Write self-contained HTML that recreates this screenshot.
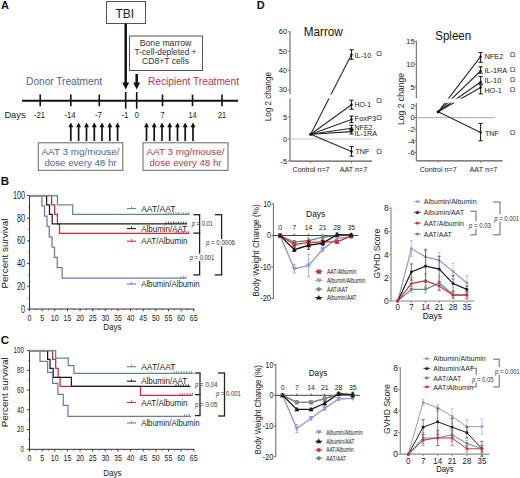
<!DOCTYPE html>
<html><head><meta charset="utf-8"><title>Figure</title>
<style>
html,body{margin:0;padding:0;background:#fff;width:520px;height:478px;overflow:hidden}
svg{display:block;font-family:"Liberation Sans", sans-serif}
</style></head><body>
<svg width="520" height="478" viewBox="0 0 520 478" font-family='"Liberation Sans", sans-serif'>
<rect x="0" y="0" width="520" height="478" fill="#fff"/>
<text x="1.00" y="9.30" font-size="11" text-anchor="start" fill="#111" font-weight="bold" >A</text>
<rect x="106.50" y="1.50" width="39.00" height="22.00" stroke="#555" stroke-width="1" fill="#fff"/>
<text x="124.80" y="18.40" font-size="12" text-anchor="middle" fill="#222" textLength="18.70" lengthAdjust="spacingAndGlyphs" >TBI</text>
<rect x="129.50" y="36.00" width="73.00" height="34.50" stroke="#555" stroke-width="1" fill="#fff"/>
<text x="165.50" y="45.60" font-size="9.4" text-anchor="middle" fill="#333" textLength="51.50" lengthAdjust="spacingAndGlyphs" >Bone marrow</text>
<text x="165.50" y="55.00" font-size="9.4" text-anchor="middle" fill="#333" textLength="62.00" lengthAdjust="spacingAndGlyphs" >T-cell-depleted +</text>
<text x="165.50" y="64.40" font-size="9.4" text-anchor="middle" fill="#333" textLength="47.00" lengthAdjust="spacingAndGlyphs" >CD8+T cells</text>
<line x1="125.70" y1="23.50" x2="125.70" y2="84.00" stroke="#111" stroke-width="2.5" />
<polygon points="122.3,82.5 129.1,82.5 125.7,89.5" fill="#111"/>
<line x1="136.70" y1="74.00" x2="136.70" y2="84.00" stroke="#111" stroke-width="2.5" />
<polygon points="133.3,82.5 140.1,82.5 136.7,89.5" fill="#111"/>
<text x="26.10" y="84.70" font-size="10" text-anchor="start" fill="#4a6596" textLength="76.00" lengthAdjust="spacingAndGlyphs" >Donor Treatment</text>
<text x="148.00" y="84.80" font-size="10" text-anchor="start" fill="#b5394a" textLength="91.00" lengthAdjust="spacingAndGlyphs" >Recipient Treatment</text>
<line x1="22.00" y1="100.70" x2="238.00" y2="100.70" stroke="#111" stroke-width="2" />
<line x1="40.20" y1="94.60" x2="40.20" y2="106.20" stroke="#111" stroke-width="1.6" />
<text x="39.40" y="118.30" font-size="9.6" text-anchor="middle" fill="#1a1a1a" textLength="11.10" lengthAdjust="spacingAndGlyphs" >-21</text>
<line x1="70.80" y1="94.60" x2="70.80" y2="106.20" stroke="#111" stroke-width="1.6" />
<text x="70.00" y="118.30" font-size="9.6" text-anchor="middle" fill="#1a1a1a" textLength="11.10" lengthAdjust="spacingAndGlyphs" >-14</text>
<line x1="99.30" y1="94.60" x2="99.30" y2="106.20" stroke="#111" stroke-width="1.6" />
<text x="98.50" y="118.30" font-size="9.6" text-anchor="middle" fill="#1a1a1a" textLength="7.00" lengthAdjust="spacingAndGlyphs" >-7</text>
<line x1="125.70" y1="92.00" x2="125.70" y2="108.70" stroke="#111" stroke-width="1.6" />
<text x="124.90" y="118.30" font-size="9.6" text-anchor="middle" fill="#1a1a1a" textLength="7.00" lengthAdjust="spacingAndGlyphs" >-1</text>
<line x1="136.70" y1="92.00" x2="136.70" y2="108.70" stroke="#111" stroke-width="1.6" />
<text x="136.70" y="118.30" font-size="9.6" text-anchor="middle" fill="#1a1a1a" textLength="4.10" lengthAdjust="spacingAndGlyphs" >0</text>
<line x1="162.50" y1="94.60" x2="162.50" y2="106.20" stroke="#111" stroke-width="1.6" />
<text x="162.50" y="118.30" font-size="9.6" text-anchor="middle" fill="#1a1a1a" textLength="4.10" lengthAdjust="spacingAndGlyphs" >7</text>
<line x1="192.50" y1="94.60" x2="192.50" y2="106.20" stroke="#111" stroke-width="1.6" />
<text x="192.50" y="118.30" font-size="9.6" text-anchor="middle" fill="#1a1a1a" textLength="8.20" lengthAdjust="spacingAndGlyphs" >14</text>
<line x1="222.00" y1="94.60" x2="222.00" y2="106.20" stroke="#111" stroke-width="1.6" />
<text x="222.00" y="118.30" font-size="9.6" text-anchor="middle" fill="#1a1a1a" textLength="8.20" lengthAdjust="spacingAndGlyphs" >21</text>
<text x="4.40" y="117.70" font-size="9.3" text-anchor="start" fill="#222" textLength="21.20" lengthAdjust="spacingAndGlyphs" >Days</text>
<line x1="70.80" y1="126.00" x2="70.80" y2="141.00" stroke="#111" stroke-width="1.7" />
<polygon points="68.30,127.2 73.30,127.2 70.80,122.6" fill="#111"/>
<line x1="78.60" y1="126.00" x2="78.60" y2="141.00" stroke="#111" stroke-width="1.7" />
<polygon points="76.10,127.2 81.10,127.2 78.60,122.6" fill="#111"/>
<line x1="86.50" y1="126.00" x2="86.50" y2="141.00" stroke="#111" stroke-width="1.7" />
<polygon points="84.00,127.2 89.00,127.2 86.50,122.6" fill="#111"/>
<line x1="94.30" y1="126.00" x2="94.30" y2="141.00" stroke="#111" stroke-width="1.7" />
<polygon points="91.80,127.2 96.80,127.2 94.30,122.6" fill="#111"/>
<line x1="102.00" y1="126.00" x2="102.00" y2="141.00" stroke="#111" stroke-width="1.7" />
<polygon points="99.50,127.2 104.50,127.2 102.00,122.6" fill="#111"/>
<line x1="109.80" y1="126.00" x2="109.80" y2="141.00" stroke="#111" stroke-width="1.7" />
<polygon points="107.30,127.2 112.30,127.2 109.80,122.6" fill="#111"/>
<line x1="117.60" y1="126.00" x2="117.60" y2="141.00" stroke="#111" stroke-width="1.7" />
<polygon points="115.10,127.2 120.10,127.2 117.60,122.6" fill="#111"/>
<line x1="146.50" y1="126.00" x2="146.50" y2="141.00" stroke="#111" stroke-width="1.7" />
<polygon points="144.00,127.2 149.00,127.2 146.50,122.6" fill="#111"/>
<line x1="154.20" y1="126.00" x2="154.20" y2="141.00" stroke="#111" stroke-width="1.7" />
<polygon points="151.70,127.2 156.70,127.2 154.20,122.6" fill="#111"/>
<line x1="162.00" y1="126.00" x2="162.00" y2="141.00" stroke="#111" stroke-width="1.7" />
<polygon points="159.50,127.2 164.50,127.2 162.00,122.6" fill="#111"/>
<line x1="169.70" y1="126.00" x2="169.70" y2="141.00" stroke="#111" stroke-width="1.7" />
<polygon points="167.20,127.2 172.20,127.2 169.70,122.6" fill="#111"/>
<line x1="177.50" y1="126.00" x2="177.50" y2="141.00" stroke="#111" stroke-width="1.7" />
<polygon points="175.00,127.2 180.00,127.2 177.50,122.6" fill="#111"/>
<line x1="185.20" y1="126.00" x2="185.20" y2="141.00" stroke="#111" stroke-width="1.7" />
<polygon points="182.70,127.2 187.70,127.2 185.20,122.6" fill="#111"/>
<line x1="193.00" y1="126.00" x2="193.00" y2="141.00" stroke="#111" stroke-width="1.7" />
<polygon points="190.50,127.2 195.50,127.2 193.00,122.6" fill="#111"/>
<rect x="38.30" y="142.80" width="84.50" height="27.50" stroke="#666" stroke-width="1" fill="#fff"/>
<text x="80.50" y="155.20" font-size="9.7" text-anchor="middle" fill="#4a6596" textLength="78.00" lengthAdjust="spacingAndGlyphs" >AAT 3 mg/mouse/</text>
<text x="80.50" y="165.60" font-size="9.7" text-anchor="middle" fill="#4a6596" textLength="72.00" lengthAdjust="spacingAndGlyphs" >dose every 48 hr</text>
<rect x="143.00" y="142.80" width="85.00" height="27.50" stroke="#666" stroke-width="1" fill="#fff"/>
<text x="185.50" y="155.20" font-size="9.7" text-anchor="middle" fill="#b5394a" textLength="78.00" lengthAdjust="spacingAndGlyphs" >AAT 3 mg/mouse/</text>
<text x="185.50" y="165.60" font-size="9.7" text-anchor="middle" fill="#b5394a" textLength="72.00" lengthAdjust="spacingAndGlyphs" >dose every 48 hr</text>
<text x="0.80" y="184.80" font-size="11.5" text-anchor="start" fill="#111" font-weight="bold" >B</text>
<line x1="29.50" y1="195.00" x2="29.50" y2="309.00" stroke="#333" stroke-width="1" />
<line x1="29.50" y1="309.00" x2="194.25" y2="309.00" stroke="#333" stroke-width="1" />
<line x1="27.20" y1="309.00" x2="29.50" y2="309.00" stroke="#333" stroke-width="1" />
<text x="25.20" y="312.50" font-size="10" text-anchor="end" fill="#222" textLength="4.10" lengthAdjust="spacingAndGlyphs" >0</text>
<line x1="28.00" y1="297.65" x2="29.50" y2="297.65" stroke="#666" stroke-width="0.8" />
<line x1="27.20" y1="286.30" x2="29.50" y2="286.30" stroke="#333" stroke-width="1" />
<text x="25.20" y="289.80" font-size="10" text-anchor="end" fill="#222" textLength="8.20" lengthAdjust="spacingAndGlyphs" >20</text>
<line x1="28.00" y1="274.95" x2="29.50" y2="274.95" stroke="#666" stroke-width="0.8" />
<line x1="27.20" y1="263.60" x2="29.50" y2="263.60" stroke="#333" stroke-width="1" />
<text x="25.20" y="267.10" font-size="10" text-anchor="end" fill="#222" textLength="8.20" lengthAdjust="spacingAndGlyphs" >40</text>
<line x1="28.00" y1="252.25" x2="29.50" y2="252.25" stroke="#666" stroke-width="0.8" />
<line x1="27.20" y1="240.90" x2="29.50" y2="240.90" stroke="#333" stroke-width="1" />
<text x="25.20" y="244.40" font-size="10" text-anchor="end" fill="#222" textLength="8.20" lengthAdjust="spacingAndGlyphs" >60</text>
<line x1="28.00" y1="229.55" x2="29.50" y2="229.55" stroke="#666" stroke-width="0.8" />
<line x1="27.20" y1="218.20" x2="29.50" y2="218.20" stroke="#333" stroke-width="1" />
<text x="25.20" y="221.70" font-size="10" text-anchor="end" fill="#222" textLength="8.20" lengthAdjust="spacingAndGlyphs" >80</text>
<line x1="28.00" y1="206.85" x2="29.50" y2="206.85" stroke="#666" stroke-width="0.8" />
<line x1="27.20" y1="195.50" x2="29.50" y2="195.50" stroke="#333" stroke-width="1" />
<text x="25.20" y="199.00" font-size="10" text-anchor="end" fill="#222" textLength="12.30" lengthAdjust="spacingAndGlyphs" >100</text>
<line x1="29.50" y1="309.00" x2="29.50" y2="311.20" stroke="#333" stroke-width="1" />
<text x="29.50" y="320.60" font-size="9.4" text-anchor="middle" fill="#222" textLength="3.90" lengthAdjust="spacingAndGlyphs" >0</text>
<line x1="35.82" y1="309.00" x2="35.82" y2="310.40" stroke="#555" stroke-width="0.9" />
<line x1="42.14" y1="309.00" x2="42.14" y2="311.20" stroke="#333" stroke-width="1" />
<text x="42.14" y="320.60" font-size="9.4" text-anchor="middle" fill="#222" textLength="3.90" lengthAdjust="spacingAndGlyphs" >5</text>
<line x1="48.45" y1="309.00" x2="48.45" y2="310.40" stroke="#555" stroke-width="0.9" />
<line x1="54.77" y1="309.00" x2="54.77" y2="311.20" stroke="#333" stroke-width="1" />
<text x="54.77" y="320.60" font-size="9.4" text-anchor="middle" fill="#222" textLength="7.80" lengthAdjust="spacingAndGlyphs" >10</text>
<line x1="61.09" y1="309.00" x2="61.09" y2="310.40" stroke="#555" stroke-width="0.9" />
<line x1="67.41" y1="309.00" x2="67.41" y2="311.20" stroke="#333" stroke-width="1" />
<text x="67.41" y="320.60" font-size="9.4" text-anchor="middle" fill="#222" textLength="7.80" lengthAdjust="spacingAndGlyphs" >15</text>
<line x1="73.72" y1="309.00" x2="73.72" y2="310.40" stroke="#555" stroke-width="0.9" />
<line x1="80.04" y1="309.00" x2="80.04" y2="311.20" stroke="#333" stroke-width="1" />
<text x="80.04" y="320.60" font-size="9.4" text-anchor="middle" fill="#222" textLength="7.80" lengthAdjust="spacingAndGlyphs" >20</text>
<line x1="86.36" y1="309.00" x2="86.36" y2="310.40" stroke="#555" stroke-width="0.9" />
<line x1="92.68" y1="309.00" x2="92.68" y2="311.20" stroke="#333" stroke-width="1" />
<text x="92.68" y="320.60" font-size="9.4" text-anchor="middle" fill="#222" textLength="7.80" lengthAdjust="spacingAndGlyphs" >25</text>
<line x1="98.99" y1="309.00" x2="98.99" y2="310.40" stroke="#555" stroke-width="0.9" />
<line x1="105.31" y1="309.00" x2="105.31" y2="311.20" stroke="#333" stroke-width="1" />
<text x="105.31" y="320.60" font-size="9.4" text-anchor="middle" fill="#222" textLength="7.80" lengthAdjust="spacingAndGlyphs" >30</text>
<line x1="111.63" y1="309.00" x2="111.63" y2="310.40" stroke="#555" stroke-width="0.9" />
<line x1="117.95" y1="309.00" x2="117.95" y2="311.20" stroke="#333" stroke-width="1" />
<text x="117.95" y="320.60" font-size="9.4" text-anchor="middle" fill="#222" textLength="7.80" lengthAdjust="spacingAndGlyphs" >35</text>
<line x1="124.26" y1="309.00" x2="124.26" y2="310.40" stroke="#555" stroke-width="0.9" />
<line x1="130.58" y1="309.00" x2="130.58" y2="311.20" stroke="#333" stroke-width="1" />
<text x="130.58" y="320.60" font-size="9.4" text-anchor="middle" fill="#222" textLength="7.80" lengthAdjust="spacingAndGlyphs" >40</text>
<line x1="136.90" y1="309.00" x2="136.90" y2="310.40" stroke="#555" stroke-width="0.9" />
<line x1="143.22" y1="309.00" x2="143.22" y2="311.20" stroke="#333" stroke-width="1" />
<text x="143.22" y="320.60" font-size="9.4" text-anchor="middle" fill="#222" textLength="7.80" lengthAdjust="spacingAndGlyphs" >45</text>
<line x1="149.53" y1="309.00" x2="149.53" y2="310.40" stroke="#555" stroke-width="0.9" />
<line x1="155.85" y1="309.00" x2="155.85" y2="311.20" stroke="#333" stroke-width="1" />
<text x="155.85" y="320.60" font-size="9.4" text-anchor="middle" fill="#222" textLength="7.80" lengthAdjust="spacingAndGlyphs" >50</text>
<line x1="162.17" y1="309.00" x2="162.17" y2="310.40" stroke="#555" stroke-width="0.9" />
<line x1="168.49" y1="309.00" x2="168.49" y2="311.20" stroke="#333" stroke-width="1" />
<text x="168.49" y="320.60" font-size="9.4" text-anchor="middle" fill="#222" textLength="7.80" lengthAdjust="spacingAndGlyphs" >55</text>
<line x1="174.80" y1="309.00" x2="174.80" y2="310.40" stroke="#555" stroke-width="0.9" />
<line x1="181.12" y1="309.00" x2="181.12" y2="311.20" stroke="#333" stroke-width="1" />
<text x="181.12" y="320.60" font-size="9.4" text-anchor="middle" fill="#222" textLength="7.80" lengthAdjust="spacingAndGlyphs" >60</text>
<line x1="187.44" y1="309.00" x2="187.44" y2="310.40" stroke="#555" stroke-width="0.9" />
<line x1="193.75" y1="309.00" x2="193.75" y2="311.20" stroke="#333" stroke-width="1" />
<text x="193.75" y="320.60" font-size="9.4" text-anchor="middle" fill="#222" textLength="7.80" lengthAdjust="spacingAndGlyphs" >65</text>
<text x="112.40" y="329.50" font-size="8.6" text-anchor="middle" fill="#222" textLength="18.40" lengthAdjust="spacingAndGlyphs" >Days</text>
<text x="7.60" y="253.60" font-size="9" text-anchor="middle" fill="#222" textLength="70.00" lengthAdjust="spacingAndGlyphs" transform="rotate(-90 7.60 253.60)" >Percent survival</text>
<polyline points="29.50,195.50 57.40,195.50 57.40,204.95 72.70,204.95 72.70,214.42 189.60,214.42" stroke="#5e8b88" stroke-width="1.25" fill="none" />
<polyline points="29.50,195.50 51.60,195.50 51.60,204.95 54.70,204.95 54.70,214.42 57.40,214.42 57.40,223.88 59.50,223.88 59.50,233.33 189.60,233.33" stroke="#c2303e" stroke-width="1.25" fill="none" />
<polyline points="29.50,195.50 46.60,195.50 46.60,204.95 49.50,204.95 49.50,214.42 52.20,214.42 52.20,223.88 187.00,223.88" stroke="#1e1e1e" stroke-width="1.25" fill="none" />
<polyline points="29.50,195.50 41.90,195.50 41.90,205.83 44.50,205.83 44.50,216.16 47.00,216.16 47.00,226.49 49.20,226.49 49.20,236.81 52.00,236.81 52.00,247.14 54.50,247.14 54.50,257.41 57.20,257.41 57.20,267.69 62.20,267.69 62.20,278.05 186.50,278.05" stroke="#7476b4" stroke-width="1.25" fill="none" />
<line x1="29.50" y1="195.50" x2="57.40" y2="195.50" stroke="#8e8e8e" stroke-width="1.4" />
<line x1="166.00" y1="212.22" x2="166.00" y2="214.42" stroke="#5e8b88" stroke-width="0.8" />
<line x1="168.50" y1="212.22" x2="168.50" y2="214.42" stroke="#5e8b88" stroke-width="0.8" />
<line x1="171.00" y1="212.22" x2="171.00" y2="214.42" stroke="#5e8b88" stroke-width="0.8" />
<line x1="173.50" y1="212.22" x2="173.50" y2="214.42" stroke="#5e8b88" stroke-width="0.8" />
<line x1="176.00" y1="212.22" x2="176.00" y2="214.42" stroke="#5e8b88" stroke-width="0.8" />
<line x1="178.50" y1="212.22" x2="178.50" y2="214.42" stroke="#5e8b88" stroke-width="0.8" />
<line x1="181.00" y1="212.22" x2="181.00" y2="214.42" stroke="#5e8b88" stroke-width="0.8" />
<line x1="183.50" y1="212.22" x2="183.50" y2="214.42" stroke="#5e8b88" stroke-width="0.8" />
<line x1="186.00" y1="212.22" x2="186.00" y2="214.42" stroke="#5e8b88" stroke-width="0.8" />
<line x1="188.50" y1="212.22" x2="188.50" y2="214.42" stroke="#5e8b88" stroke-width="0.8" />
<line x1="166.00" y1="221.68" x2="166.00" y2="223.88" stroke="#1e1e1e" stroke-width="0.8" />
<line x1="168.50" y1="221.68" x2="168.50" y2="223.88" stroke="#1e1e1e" stroke-width="0.8" />
<line x1="171.00" y1="221.68" x2="171.00" y2="223.88" stroke="#1e1e1e" stroke-width="0.8" />
<line x1="173.50" y1="221.68" x2="173.50" y2="223.88" stroke="#1e1e1e" stroke-width="0.8" />
<line x1="176.00" y1="221.68" x2="176.00" y2="223.88" stroke="#1e1e1e" stroke-width="0.8" />
<line x1="178.50" y1="221.68" x2="178.50" y2="223.88" stroke="#1e1e1e" stroke-width="0.8" />
<line x1="181.00" y1="221.68" x2="181.00" y2="223.88" stroke="#1e1e1e" stroke-width="0.8" />
<line x1="183.50" y1="221.68" x2="183.50" y2="223.88" stroke="#1e1e1e" stroke-width="0.8" />
<line x1="186.00" y1="221.68" x2="186.00" y2="223.88" stroke="#1e1e1e" stroke-width="0.8" />
<line x1="176.00" y1="231.13" x2="176.00" y2="233.33" stroke="#c2303e" stroke-width="0.8" />
<line x1="178.50" y1="231.13" x2="178.50" y2="233.33" stroke="#c2303e" stroke-width="0.8" />
<line x1="181.00" y1="231.13" x2="181.00" y2="233.33" stroke="#c2303e" stroke-width="0.8" />
<line x1="183.50" y1="231.13" x2="183.50" y2="233.33" stroke="#c2303e" stroke-width="0.8" />
<line x1="186.00" y1="231.13" x2="186.00" y2="233.33" stroke="#c2303e" stroke-width="0.8" />
<line x1="188.50" y1="231.13" x2="188.50" y2="233.33" stroke="#c2303e" stroke-width="0.8" />
<line x1="181.00" y1="275.85" x2="181.00" y2="278.05" stroke="#7476b4" stroke-width="0.8" />
<line x1="183.50" y1="275.85" x2="183.50" y2="278.05" stroke="#7476b4" stroke-width="0.8" />
<line x1="186.00" y1="275.85" x2="186.00" y2="278.05" stroke="#7476b4" stroke-width="0.8" />
<line x1="127.00" y1="208.60" x2="136.00" y2="208.60" stroke="#5e8b88" stroke-width="1.1" />
<line x1="131.50" y1="206.60" x2="131.50" y2="208.60" stroke="#5e8b88" stroke-width="0.9" />
<text x="141.20" y="211.60" font-size="8.4" text-anchor="start" fill="#222" textLength="34.20" lengthAdjust="spacingAndGlyphs" >AAT/AAT</text>
<line x1="127.00" y1="228.60" x2="136.00" y2="228.60" stroke="#1e1e1e" stroke-width="1.1" />
<line x1="131.50" y1="226.60" x2="131.50" y2="228.60" stroke="#1e1e1e" stroke-width="0.9" />
<text x="141.20" y="231.60" font-size="8.4" text-anchor="start" fill="#222" textLength="46.00" lengthAdjust="spacingAndGlyphs" >Albumin/AAT</text>
<line x1="127.00" y1="241.20" x2="136.00" y2="241.20" stroke="#c2303e" stroke-width="1.1" />
<line x1="131.50" y1="239.20" x2="131.50" y2="241.20" stroke="#c2303e" stroke-width="0.9" />
<text x="141.20" y="244.20" font-size="8.4" text-anchor="start" fill="#222" textLength="46.30" lengthAdjust="spacingAndGlyphs" >AAT/Albumin</text>
<line x1="127.00" y1="284.00" x2="136.00" y2="284.00" stroke="#7476b4" stroke-width="1.1" />
<line x1="131.50" y1="282.00" x2="131.50" y2="284.00" stroke="#7476b4" stroke-width="0.9" />
<text x="141.20" y="287.00" font-size="8.4" text-anchor="start" fill="#222" textLength="58.50" lengthAdjust="spacingAndGlyphs" >Albumin/Albumin</text>
<line x1="199.60" y1="214.70" x2="199.60" y2="274.90" stroke="#222" stroke-width="1.3" />
<line x1="193.30" y1="214.70" x2="200.25" y2="214.70" stroke="#222" stroke-width="1.3" />
<line x1="193.30" y1="233.10" x2="200.25" y2="233.10" stroke="#222" stroke-width="1.3" />
<line x1="193.30" y1="274.90" x2="200.25" y2="274.90" stroke="#222" stroke-width="1.3" />
<line x1="221.60" y1="214.70" x2="221.60" y2="274.90" stroke="#222" stroke-width="1.3" />
<line x1="214.90" y1="214.70" x2="222.25" y2="214.70" stroke="#222" stroke-width="1.3" />
<line x1="214.90" y1="274.90" x2="222.25" y2="274.90" stroke="#222" stroke-width="1.3" />
<text x="202.40" y="225.85" font-size="6.8" text-anchor="middle" fill="#333" textLength="21.30" lengthAdjust="spacingAndGlyphs"><tspan font-style="italic">p</tspan> = 0.01</text>
<rect x="189.45" y="253.70" width="25.10" height="7.2" fill="#fff"/>
<text x="202.00" y="259.75" font-size="6.8" text-anchor="middle" fill="#333" textLength="24.50" lengthAdjust="spacingAndGlyphs"><tspan font-style="italic">p</tspan> = 0.001</text>
<rect x="205.70" y="239.10" width="29.60" height="7.2" fill="#fff"/>
<text x="220.50" y="245.15" font-size="6.8" text-anchor="middle" fill="#333" textLength="29.00" lengthAdjust="spacingAndGlyphs"><tspan font-style="italic">p</tspan> = 0.0006</text>
<text x="0.80" y="343.80" font-size="11.5" text-anchor="start" fill="#111" font-weight="bold" >C</text>
<line x1="29.50" y1="350.00" x2="29.50" y2="449.30" stroke="#333" stroke-width="1" />
<line x1="29.50" y1="449.30" x2="194.25" y2="449.30" stroke="#333" stroke-width="1" />
<line x1="27.20" y1="449.30" x2="29.50" y2="449.30" stroke="#333" stroke-width="1" />
<text x="23.80" y="452.20" font-size="8.3" text-anchor="end" fill="#222" textLength="3.40" lengthAdjust="spacingAndGlyphs" >0</text>
<line x1="28.00" y1="439.42" x2="29.50" y2="439.42" stroke="#666" stroke-width="0.8" />
<line x1="27.20" y1="429.54" x2="29.50" y2="429.54" stroke="#333" stroke-width="1" />
<text x="23.80" y="432.44" font-size="8.3" text-anchor="end" fill="#222" textLength="6.80" lengthAdjust="spacingAndGlyphs" >20</text>
<line x1="28.00" y1="419.66" x2="29.50" y2="419.66" stroke="#666" stroke-width="0.8" />
<line x1="27.20" y1="409.78" x2="29.50" y2="409.78" stroke="#333" stroke-width="1" />
<text x="23.80" y="412.69" font-size="8.3" text-anchor="end" fill="#222" textLength="6.80" lengthAdjust="spacingAndGlyphs" >40</text>
<line x1="28.00" y1="399.90" x2="29.50" y2="399.90" stroke="#666" stroke-width="0.8" />
<line x1="27.20" y1="390.02" x2="29.50" y2="390.02" stroke="#333" stroke-width="1" />
<text x="23.80" y="392.92" font-size="8.3" text-anchor="end" fill="#222" textLength="6.80" lengthAdjust="spacingAndGlyphs" >60</text>
<line x1="28.00" y1="380.14" x2="29.50" y2="380.14" stroke="#666" stroke-width="0.8" />
<line x1="27.20" y1="370.26" x2="29.50" y2="370.26" stroke="#333" stroke-width="1" />
<text x="23.80" y="373.16" font-size="8.3" text-anchor="end" fill="#222" textLength="6.80" lengthAdjust="spacingAndGlyphs" >80</text>
<line x1="28.00" y1="360.38" x2="29.50" y2="360.38" stroke="#666" stroke-width="0.8" />
<line x1="27.20" y1="350.50" x2="29.50" y2="350.50" stroke="#333" stroke-width="1" />
<text x="23.80" y="353.40" font-size="8.3" text-anchor="end" fill="#222" textLength="10.20" lengthAdjust="spacingAndGlyphs" >100</text>
<line x1="29.50" y1="449.30" x2="29.50" y2="451.50" stroke="#333" stroke-width="1" />
<text x="29.50" y="461.30" font-size="9.4" text-anchor="middle" fill="#222" textLength="3.90" lengthAdjust="spacingAndGlyphs" >0</text>
<line x1="35.82" y1="449.30" x2="35.82" y2="450.70" stroke="#555" stroke-width="0.9" />
<line x1="42.14" y1="449.30" x2="42.14" y2="451.50" stroke="#333" stroke-width="1" />
<text x="42.14" y="461.30" font-size="9.4" text-anchor="middle" fill="#222" textLength="3.90" lengthAdjust="spacingAndGlyphs" >5</text>
<line x1="48.45" y1="449.30" x2="48.45" y2="450.70" stroke="#555" stroke-width="0.9" />
<line x1="54.77" y1="449.30" x2="54.77" y2="451.50" stroke="#333" stroke-width="1" />
<text x="54.77" y="461.30" font-size="9.4" text-anchor="middle" fill="#222" textLength="7.80" lengthAdjust="spacingAndGlyphs" >10</text>
<line x1="61.09" y1="449.30" x2="61.09" y2="450.70" stroke="#555" stroke-width="0.9" />
<line x1="67.41" y1="449.30" x2="67.41" y2="451.50" stroke="#333" stroke-width="1" />
<text x="67.41" y="461.30" font-size="9.4" text-anchor="middle" fill="#222" textLength="7.80" lengthAdjust="spacingAndGlyphs" >15</text>
<line x1="73.72" y1="449.30" x2="73.72" y2="450.70" stroke="#555" stroke-width="0.9" />
<line x1="80.04" y1="449.30" x2="80.04" y2="451.50" stroke="#333" stroke-width="1" />
<text x="80.04" y="461.30" font-size="9.4" text-anchor="middle" fill="#222" textLength="7.80" lengthAdjust="spacingAndGlyphs" >20</text>
<line x1="86.36" y1="449.30" x2="86.36" y2="450.70" stroke="#555" stroke-width="0.9" />
<line x1="92.68" y1="449.30" x2="92.68" y2="451.50" stroke="#333" stroke-width="1" />
<text x="92.68" y="461.30" font-size="9.4" text-anchor="middle" fill="#222" textLength="7.80" lengthAdjust="spacingAndGlyphs" >25</text>
<line x1="98.99" y1="449.30" x2="98.99" y2="450.70" stroke="#555" stroke-width="0.9" />
<line x1="105.31" y1="449.30" x2="105.31" y2="451.50" stroke="#333" stroke-width="1" />
<text x="105.31" y="461.30" font-size="9.4" text-anchor="middle" fill="#222" textLength="7.80" lengthAdjust="spacingAndGlyphs" >30</text>
<line x1="111.63" y1="449.30" x2="111.63" y2="450.70" stroke="#555" stroke-width="0.9" />
<line x1="117.95" y1="449.30" x2="117.95" y2="451.50" stroke="#333" stroke-width="1" />
<text x="117.95" y="461.30" font-size="9.4" text-anchor="middle" fill="#222" textLength="7.80" lengthAdjust="spacingAndGlyphs" >35</text>
<line x1="124.26" y1="449.30" x2="124.26" y2="450.70" stroke="#555" stroke-width="0.9" />
<line x1="130.58" y1="449.30" x2="130.58" y2="451.50" stroke="#333" stroke-width="1" />
<text x="130.58" y="461.30" font-size="9.4" text-anchor="middle" fill="#222" textLength="7.80" lengthAdjust="spacingAndGlyphs" >40</text>
<line x1="136.90" y1="449.30" x2="136.90" y2="450.70" stroke="#555" stroke-width="0.9" />
<line x1="143.22" y1="449.30" x2="143.22" y2="451.50" stroke="#333" stroke-width="1" />
<text x="143.22" y="461.30" font-size="9.4" text-anchor="middle" fill="#222" textLength="7.80" lengthAdjust="spacingAndGlyphs" >45</text>
<line x1="149.53" y1="449.30" x2="149.53" y2="450.70" stroke="#555" stroke-width="0.9" />
<line x1="155.85" y1="449.30" x2="155.85" y2="451.50" stroke="#333" stroke-width="1" />
<text x="155.85" y="461.30" font-size="9.4" text-anchor="middle" fill="#222" textLength="7.80" lengthAdjust="spacingAndGlyphs" >50</text>
<line x1="162.17" y1="449.30" x2="162.17" y2="450.70" stroke="#555" stroke-width="0.9" />
<line x1="168.49" y1="449.30" x2="168.49" y2="451.50" stroke="#333" stroke-width="1" />
<text x="168.49" y="461.30" font-size="9.4" text-anchor="middle" fill="#222" textLength="7.80" lengthAdjust="spacingAndGlyphs" >55</text>
<line x1="174.80" y1="449.30" x2="174.80" y2="450.70" stroke="#555" stroke-width="0.9" />
<line x1="181.12" y1="449.30" x2="181.12" y2="451.50" stroke="#333" stroke-width="1" />
<text x="181.12" y="461.30" font-size="9.4" text-anchor="middle" fill="#222" textLength="7.80" lengthAdjust="spacingAndGlyphs" >60</text>
<line x1="187.44" y1="449.30" x2="187.44" y2="450.70" stroke="#555" stroke-width="0.9" />
<line x1="193.75" y1="449.30" x2="193.75" y2="451.50" stroke="#333" stroke-width="1" />
<text x="193.75" y="461.30" font-size="9.4" text-anchor="middle" fill="#222" textLength="7.80" lengthAdjust="spacingAndGlyphs" >65</text>
<text x="112.40" y="475.60" font-size="8.6" text-anchor="middle" fill="#222" textLength="18.40" lengthAdjust="spacingAndGlyphs" >Days</text>
<text x="7.60" y="392.30" font-size="9" text-anchor="middle" fill="#222" textLength="70.00" lengthAdjust="spacingAndGlyphs" transform="rotate(-90 7.60 392.30)" >Percent survival</text>
<polyline points="29.50,350.50 55.70,350.50 55.70,358.11 68.30,358.11 68.30,365.72 73.90,365.72 73.90,373.32 193.70,373.32" stroke="#5e8b88" stroke-width="1.25" fill="none" />
<polyline points="29.50,350.50 52.60,350.50 52.60,359.49 55.70,359.49 55.70,368.48 58.20,368.48 58.20,377.47 60.10,377.47 60.10,386.46 140.50,386.46 140.50,395.45 192.50,395.45" stroke="#c2303e" stroke-width="1.25" fill="none" />
<polyline points="29.50,350.50 47.60,350.50 47.60,359.49 50.00,359.49 50.00,368.48 53.20,368.48 53.20,377.47 71.40,377.47 71.40,386.46 190.50,386.46" stroke="#1e1e1e" stroke-width="1.25" fill="none" />
<polyline points="29.50,350.50 40.00,350.50 40.00,361.47 47.60,361.47 47.60,372.43 52.60,372.43 52.60,383.40 57.90,383.40 57.90,394.37 63.30,394.37 63.30,405.43 68.00,405.43 68.00,416.40 191.00,416.40" stroke="#7476b4" stroke-width="1.25" fill="none" />
<line x1="29.50" y1="350.50" x2="55.70" y2="350.50" stroke="#8e8e8e" stroke-width="1.4" />
<line x1="174.00" y1="371.12" x2="174.00" y2="373.32" stroke="#5e8b88" stroke-width="0.8" />
<line x1="176.50" y1="371.12" x2="176.50" y2="373.32" stroke="#5e8b88" stroke-width="0.8" />
<line x1="179.00" y1="371.12" x2="179.00" y2="373.32" stroke="#5e8b88" stroke-width="0.8" />
<line x1="181.50" y1="371.12" x2="181.50" y2="373.32" stroke="#5e8b88" stroke-width="0.8" />
<line x1="184.00" y1="371.12" x2="184.00" y2="373.32" stroke="#5e8b88" stroke-width="0.8" />
<line x1="186.50" y1="371.12" x2="186.50" y2="373.32" stroke="#5e8b88" stroke-width="0.8" />
<line x1="189.00" y1="371.12" x2="189.00" y2="373.32" stroke="#5e8b88" stroke-width="0.8" />
<line x1="191.50" y1="371.12" x2="191.50" y2="373.32" stroke="#5e8b88" stroke-width="0.8" />
<line x1="176.00" y1="384.26" x2="176.00" y2="386.46" stroke="#1e1e1e" stroke-width="0.8" />
<line x1="178.50" y1="384.26" x2="178.50" y2="386.46" stroke="#1e1e1e" stroke-width="0.8" />
<line x1="181.00" y1="384.26" x2="181.00" y2="386.46" stroke="#1e1e1e" stroke-width="0.8" />
<line x1="183.50" y1="384.26" x2="183.50" y2="386.46" stroke="#1e1e1e" stroke-width="0.8" />
<line x1="186.00" y1="384.26" x2="186.00" y2="386.46" stroke="#1e1e1e" stroke-width="0.8" />
<line x1="188.50" y1="384.26" x2="188.50" y2="386.46" stroke="#1e1e1e" stroke-width="0.8" />
<line x1="180.00" y1="393.25" x2="180.00" y2="395.45" stroke="#c2303e" stroke-width="0.8" />
<line x1="182.50" y1="393.25" x2="182.50" y2="395.45" stroke="#c2303e" stroke-width="0.8" />
<line x1="185.00" y1="393.25" x2="185.00" y2="395.45" stroke="#c2303e" stroke-width="0.8" />
<line x1="187.50" y1="393.25" x2="187.50" y2="395.45" stroke="#c2303e" stroke-width="0.8" />
<line x1="190.00" y1="393.25" x2="190.00" y2="395.45" stroke="#c2303e" stroke-width="0.8" />
<line x1="192.50" y1="393.25" x2="192.50" y2="395.45" stroke="#c2303e" stroke-width="0.8" />
<line x1="184.50" y1="414.20" x2="184.50" y2="416.40" stroke="#7476b4" stroke-width="0.8" />
<line x1="187.00" y1="414.20" x2="187.00" y2="416.40" stroke="#7476b4" stroke-width="0.8" />
<line x1="189.50" y1="414.20" x2="189.50" y2="416.40" stroke="#7476b4" stroke-width="0.8" />
<line x1="127.00" y1="366.70" x2="136.00" y2="366.70" stroke="#5e8b88" stroke-width="1.1" />
<line x1="131.50" y1="364.70" x2="131.50" y2="366.70" stroke="#5e8b88" stroke-width="0.9" />
<text x="141.20" y="369.70" font-size="8.4" text-anchor="start" fill="#222" textLength="34.20" lengthAdjust="spacingAndGlyphs" >AAT/AAT</text>
<line x1="127.00" y1="381.20" x2="136.00" y2="381.20" stroke="#1e1e1e" stroke-width="1.1" />
<line x1="131.50" y1="379.20" x2="131.50" y2="381.20" stroke="#1e1e1e" stroke-width="0.9" />
<text x="141.20" y="384.20" font-size="8.4" text-anchor="start" fill="#222" textLength="46.00" lengthAdjust="spacingAndGlyphs" >Albumin/AAT</text>
<line x1="127.00" y1="402.50" x2="136.00" y2="402.50" stroke="#c2303e" stroke-width="1.1" />
<line x1="131.50" y1="400.50" x2="131.50" y2="402.50" stroke="#c2303e" stroke-width="0.9" />
<text x="141.20" y="405.50" font-size="8.4" text-anchor="start" fill="#222" textLength="46.30" lengthAdjust="spacingAndGlyphs" >AAT/Albumin</text>
<line x1="127.00" y1="423.00" x2="136.00" y2="423.00" stroke="#7476b4" stroke-width="1.1" />
<line x1="131.50" y1="421.00" x2="131.50" y2="423.00" stroke="#7476b4" stroke-width="0.9" />
<text x="141.20" y="426.00" font-size="8.4" text-anchor="start" fill="#222" textLength="58.50" lengthAdjust="spacingAndGlyphs" >Albumin/Albumin</text>
<line x1="200.00" y1="373.00" x2="200.00" y2="415.60" stroke="#222" stroke-width="1.3" />
<line x1="195.00" y1="373.00" x2="200.65" y2="373.00" stroke="#222" stroke-width="1.3" />
<line x1="195.00" y1="394.60" x2="200.65" y2="394.60" stroke="#222" stroke-width="1.3" />
<line x1="195.00" y1="415.60" x2="200.65" y2="415.60" stroke="#222" stroke-width="1.3" />
<line x1="224.50" y1="373.00" x2="224.50" y2="416.00" stroke="#222" stroke-width="1.3" />
<line x1="218.00" y1="373.00" x2="225.15" y2="373.00" stroke="#222" stroke-width="1.3" />
<line x1="218.00" y1="416.00" x2="225.15" y2="416.00" stroke="#222" stroke-width="1.3" />
<text x="206.20" y="386.95" font-size="6.8" text-anchor="middle" fill="#333" textLength="22.50" lengthAdjust="spacingAndGlyphs"><tspan font-style="italic">p</tspan> = 0.04</text>
<text x="206.20" y="407.45" font-size="6.8" text-anchor="middle" fill="#333" textLength="22.50" lengthAdjust="spacingAndGlyphs"><tspan font-style="italic">p</tspan> = 0.05</text>
<text x="228.40" y="395.75" font-size="6.8" text-anchor="middle" fill="#333" textLength="24.70" lengthAdjust="spacingAndGlyphs"><tspan font-style="italic">p</tspan> = 0.001</text>
<text x="256.80" y="9.30" font-size="11" text-anchor="start" fill="#111" font-weight="bold" >D</text>
<text x="303.80" y="36.30" font-size="12" text-anchor="start" fill="#111" textLength="39.00" lengthAdjust="spacingAndGlyphs" >Marrow</text>
<line x1="290.00" y1="31.30" x2="290.00" y2="94.40" stroke="#7d7d7d" stroke-width="1.3" />
<line x1="290.00" y1="98.60" x2="290.00" y2="161.20" stroke="#7d7d7d" stroke-width="1.3" />
<line x1="288.00" y1="31.80" x2="290.00" y2="31.80" stroke="#7d7d7d" stroke-width="1" />
<text x="287.20" y="34.40" font-size="7.5" text-anchor="end" fill="#222" >60</text>
<line x1="288.00" y1="51.15" x2="290.00" y2="51.15" stroke="#7d7d7d" stroke-width="1" />
<text x="287.20" y="53.75" font-size="7.5" text-anchor="end" fill="#222" >50</text>
<line x1="288.00" y1="70.50" x2="290.00" y2="70.50" stroke="#7d7d7d" stroke-width="1" />
<text x="287.20" y="73.10" font-size="7.5" text-anchor="end" fill="#222" >40</text>
<line x1="288.00" y1="89.85" x2="290.00" y2="89.85" stroke="#7d7d7d" stroke-width="1" />
<text x="287.20" y="92.45" font-size="7.5" text-anchor="end" fill="#222" >30</text>
<line x1="288.00" y1="116.90" x2="290.00" y2="116.90" stroke="#7d7d7d" stroke-width="1" />
<text x="287.20" y="119.50" font-size="7.5" text-anchor="end" fill="#222" >5</text>
<line x1="288.00" y1="138.90" x2="290.00" y2="138.90" stroke="#7d7d7d" stroke-width="1" />
<text x="287.20" y="141.50" font-size="7.5" text-anchor="end" fill="#222" >0</text>
<line x1="288.00" y1="160.90" x2="290.00" y2="160.90" stroke="#7d7d7d" stroke-width="1" />
<text x="287.20" y="163.50" font-size="7.5" text-anchor="end" fill="#222" >-5</text>
<line x1="290.00" y1="161.20" x2="372.00" y2="161.20" stroke="#5a5a5a" stroke-width="1.2" />
<line x1="310.70" y1="161.20" x2="310.70" y2="163.20" stroke="#7d7d7d" stroke-width="1" />
<line x1="351.50" y1="161.20" x2="351.50" y2="163.20" stroke="#7d7d7d" stroke-width="1" />
<line x1="290.00" y1="139.00" x2="372.00" y2="139.00" stroke="#c4c4c4" stroke-width="1" />
<text x="270.90" y="96.70" font-size="8.6" text-anchor="middle" fill="#222" textLength="49.30" lengthAdjust="spacingAndGlyphs" transform="rotate(-90 270.90 96.70)" >Log 2 change</text>
<text x="311.00" y="171.60" font-size="7.2" text-anchor="middle" fill="#222" textLength="37.00" lengthAdjust="spacingAndGlyphs" >Control n=7</text>
<text x="353.50" y="171.60" font-size="7.2" text-anchor="middle" fill="#222" textLength="27.40" lengthAdjust="spacingAndGlyphs" >AAT n=7</text>
<line x1="310.70" y1="134.30" x2="351.50" y2="54.60" stroke="#2a2a2a" stroke-width="1.1" />
<line x1="310.70" y1="134.30" x2="351.50" y2="104.80" stroke="#2a2a2a" stroke-width="1.1" />
<line x1="310.70" y1="134.30" x2="351.50" y2="119.50" stroke="#2a2a2a" stroke-width="1.1" />
<line x1="310.70" y1="134.30" x2="351.50" y2="128.20" stroke="#2a2a2a" stroke-width="1.1" />
<line x1="310.70" y1="134.30" x2="351.50" y2="131.60" stroke="#2a2a2a" stroke-width="1.1" />
<line x1="310.70" y1="134.30" x2="351.50" y2="151.50" stroke="#2a2a2a" stroke-width="1.1" />
<rect x="326" y="94.7" width="8" height="3.7" fill="#fff"/>
<circle cx="310.7" cy="134.3" r="1.6" fill="#111"/>
<line x1="351.50" y1="49.80" x2="351.50" y2="59.30" stroke="#222" stroke-width="1.1" />
<line x1="349.40" y1="49.80" x2="353.60" y2="49.80" stroke="#222" stroke-width="1.1" />
<line x1="349.40" y1="59.30" x2="353.60" y2="59.30" stroke="#222" stroke-width="1.1" />
<circle cx="351.5" cy="54.6" r="1.2" fill="#111"/>
<text x="354.60" y="57.70" font-size="7.5" text-anchor="start" fill="#222" textLength="16.60" lengthAdjust="spacingAndGlyphs" >IL-10</text>
<text x="379.00" y="56.20" font-size="7.6" text-anchor="middle" fill="#333" >Ω</text>
<line x1="351.50" y1="100.20" x2="351.50" y2="109.20" stroke="#222" stroke-width="1.1" />
<line x1="349.40" y1="100.20" x2="353.60" y2="100.20" stroke="#222" stroke-width="1.1" />
<line x1="349.40" y1="109.20" x2="353.60" y2="109.20" stroke="#222" stroke-width="1.1" />
<circle cx="351.5" cy="104.8" r="1.2" fill="#111"/>
<text x="354.60" y="106.50" font-size="7.5" text-anchor="start" fill="#222" textLength="16.50" lengthAdjust="spacingAndGlyphs" >HO-1</text>
<text x="379.00" y="103.30" font-size="7.6" text-anchor="middle" fill="#333" >Ω</text>
<line x1="351.50" y1="116.00" x2="351.50" y2="122.60" stroke="#222" stroke-width="1.1" />
<line x1="349.40" y1="116.00" x2="353.60" y2="116.00" stroke="#222" stroke-width="1.1" />
<line x1="349.40" y1="122.60" x2="353.60" y2="122.60" stroke="#222" stroke-width="1.1" />
<circle cx="351.5" cy="119.5" r="1.2" fill="#111"/>
<text x="354.60" y="120.50" font-size="7.5" text-anchor="start" fill="#222" textLength="21.60" lengthAdjust="spacingAndGlyphs" >FoxP3</text>
<text x="379.00" y="119.50" font-size="7.6" text-anchor="middle" fill="#333" >Ω</text>
<line x1="351.50" y1="125.30" x2="351.50" y2="130.50" stroke="#222" stroke-width="1.1" />
<line x1="349.40" y1="125.30" x2="353.60" y2="125.30" stroke="#222" stroke-width="1.1" />
<line x1="349.40" y1="130.50" x2="353.60" y2="130.50" stroke="#222" stroke-width="1.1" />
<circle cx="351.5" cy="128.2" r="1.2" fill="#111"/>
<text x="354.60" y="130.00" font-size="7.5" text-anchor="start" fill="#222" textLength="17.80" lengthAdjust="spacingAndGlyphs" >NFE2</text>
<line x1="351.50" y1="129.50" x2="351.50" y2="134.00" stroke="#222" stroke-width="1.1" />
<line x1="349.40" y1="129.50" x2="353.60" y2="129.50" stroke="#222" stroke-width="1.1" />
<line x1="349.40" y1="134.00" x2="353.60" y2="134.00" stroke="#222" stroke-width="1.1" />
<circle cx="351.5" cy="131.6" r="1.2" fill="#111"/>
<text x="354.60" y="136.40" font-size="7.5" text-anchor="start" fill="#222" textLength="22.50" lengthAdjust="spacingAndGlyphs" >IL-1RA</text>
<line x1="351.50" y1="146.50" x2="351.50" y2="156.20" stroke="#222" stroke-width="1.1" />
<line x1="349.40" y1="146.50" x2="353.60" y2="146.50" stroke="#222" stroke-width="1.1" />
<line x1="349.40" y1="156.20" x2="353.60" y2="156.20" stroke="#222" stroke-width="1.1" />
<circle cx="351.5" cy="151.5" r="1.2" fill="#111"/>
<text x="355.40" y="154.30" font-size="7.5" text-anchor="start" fill="#222" textLength="14.00" lengthAdjust="spacingAndGlyphs" >TNF</text>
<text x="379.00" y="153.70" font-size="7.6" text-anchor="middle" fill="#333" >Ω</text>
<text x="435.20" y="40.20" font-size="12" text-anchor="start" fill="#111" textLength="36.00" lengthAdjust="spacingAndGlyphs" >Spleen</text>
<line x1="416.40" y1="40.70" x2="416.40" y2="98.30" stroke="#7d7d7d" stroke-width="1.3" />
<line x1="416.40" y1="103.00" x2="416.40" y2="160.80" stroke="#7d7d7d" stroke-width="1.3" />
<line x1="414.40" y1="41.20" x2="416.40" y2="41.20" stroke="#7d7d7d" stroke-width="1" />
<text x="414.60" y="43.80" font-size="7.5" text-anchor="end" fill="#222" >15</text>
<line x1="414.40" y1="64.05" x2="416.40" y2="64.05" stroke="#7d7d7d" stroke-width="1" />
<text x="414.60" y="66.65" font-size="7.5" text-anchor="end" fill="#222" >10</text>
<line x1="414.40" y1="86.90" x2="416.40" y2="86.90" stroke="#7d7d7d" stroke-width="1" />
<text x="414.60" y="89.50" font-size="7.5" text-anchor="end" fill="#222" >5</text>
<line x1="414.40" y1="105.90" x2="416.40" y2="105.90" stroke="#7d7d7d" stroke-width="1" />
<text x="414.60" y="108.50" font-size="7.5" text-anchor="end" fill="#222" >2</text>
<line x1="414.40" y1="117.60" x2="416.40" y2="117.60" stroke="#7d7d7d" stroke-width="1" />
<text x="414.60" y="120.20" font-size="7.5" text-anchor="end" fill="#222" >0</text>
<line x1="414.40" y1="129.30" x2="416.40" y2="129.30" stroke="#7d7d7d" stroke-width="1" />
<text x="414.60" y="131.90" font-size="7.5" text-anchor="end" fill="#222" >-2</text>
<line x1="414.40" y1="141.00" x2="416.40" y2="141.00" stroke="#7d7d7d" stroke-width="1" />
<text x="414.60" y="143.60" font-size="7.5" text-anchor="end" fill="#222" >-4</text>
<line x1="414.40" y1="152.70" x2="416.40" y2="152.70" stroke="#7d7d7d" stroke-width="1" />
<text x="414.60" y="155.30" font-size="7.5" text-anchor="end" fill="#222" >-6</text>
<line x1="416.40" y1="160.80" x2="502.70" y2="160.80" stroke="#5a5a5a" stroke-width="1.2" />
<line x1="438.20" y1="160.80" x2="438.20" y2="162.80" stroke="#7d7d7d" stroke-width="1" />
<line x1="480.60" y1="160.80" x2="480.60" y2="162.80" stroke="#7d7d7d" stroke-width="1" />
<line x1="416.40" y1="117.60" x2="495.20" y2="117.60" stroke="#a4a4a4" stroke-width="1.2" stroke-dasharray="1.6 0.5"/>
<text x="404.30" y="99.00" font-size="9.0" text-anchor="middle" fill="#222" textLength="52.20" lengthAdjust="spacingAndGlyphs" transform="rotate(-90 404.30 99.00)" >Log 2 change</text>
<text x="438.20" y="171.80" font-size="7.2" text-anchor="middle" fill="#222" textLength="37.00" lengthAdjust="spacingAndGlyphs" >Control n=7</text>
<text x="483.40" y="171.80" font-size="7.2" text-anchor="middle" fill="#222" textLength="27.70" lengthAdjust="spacingAndGlyphs" >AAT n=7</text>
<line x1="438.20" y1="111.80" x2="480.60" y2="56.60" stroke="#2a2a2a" stroke-width="1.1" />
<line x1="438.20" y1="111.80" x2="480.60" y2="71.00" stroke="#2a2a2a" stroke-width="1.1" />
<line x1="438.20" y1="111.80" x2="480.60" y2="82.00" stroke="#2a2a2a" stroke-width="1.1" />
<line x1="438.20" y1="111.80" x2="480.60" y2="87.50" stroke="#2a2a2a" stroke-width="1.1" />
<line x1="438.20" y1="111.80" x2="480.60" y2="132.50" stroke="#2a2a2a" stroke-width="1.1" />
<rect x="441" y="98.6" width="30" height="4.1" fill="#fff"/>
<circle cx="438.2" cy="111.8" r="1.6" fill="#111"/>
<line x1="480.60" y1="52.50" x2="480.60" y2="62.30" stroke="#222" stroke-width="1.1" />
<line x1="478.50" y1="52.50" x2="482.70" y2="52.50" stroke="#222" stroke-width="1.1" />
<line x1="478.50" y1="62.30" x2="482.70" y2="62.30" stroke="#222" stroke-width="1.1" />
<circle cx="480.6" cy="56.6" r="1.2" fill="#111"/>
<text x="484.40" y="58.60" font-size="7.5" text-anchor="start" fill="#222" textLength="19.00" lengthAdjust="spacingAndGlyphs" >NFE2</text>
<text x="512.50" y="57.30" font-size="7.6" text-anchor="middle" fill="#333" >Ω</text>
<line x1="480.60" y1="66.80" x2="480.60" y2="73.20" stroke="#222" stroke-width="1.1" />
<line x1="478.50" y1="66.80" x2="482.70" y2="66.80" stroke="#222" stroke-width="1.1" />
<line x1="478.50" y1="73.20" x2="482.70" y2="73.20" stroke="#222" stroke-width="1.1" />
<circle cx="480.6" cy="71.0" r="1.2" fill="#111"/>
<text x="484.40" y="72.70" font-size="7.5" text-anchor="start" fill="#222" textLength="22.80" lengthAdjust="spacingAndGlyphs" >IL-1RA</text>
<text x="512.50" y="71.50" font-size="7.6" text-anchor="middle" fill="#333" >Ω</text>
<line x1="480.60" y1="76.40" x2="480.60" y2="83.80" stroke="#222" stroke-width="1.1" />
<line x1="478.50" y1="76.40" x2="482.70" y2="76.40" stroke="#222" stroke-width="1.1" />
<line x1="478.50" y1="83.80" x2="482.70" y2="83.80" stroke="#222" stroke-width="1.1" />
<circle cx="480.6" cy="82.0" r="1.2" fill="#111"/>
<text x="484.40" y="82.60" font-size="7.5" text-anchor="start" fill="#222" textLength="17.00" lengthAdjust="spacingAndGlyphs" >IL-10</text>
<text x="512.50" y="82.10" font-size="7.6" text-anchor="middle" fill="#333" >Ω</text>
<line x1="480.60" y1="84.80" x2="480.60" y2="93.90" stroke="#222" stroke-width="1.1" />
<line x1="478.50" y1="84.80" x2="482.70" y2="84.80" stroke="#222" stroke-width="1.1" />
<line x1="478.50" y1="93.90" x2="482.70" y2="93.90" stroke="#222" stroke-width="1.1" />
<circle cx="480.6" cy="87.5" r="1.2" fill="#111"/>
<text x="484.40" y="92.80" font-size="7.5" text-anchor="start" fill="#222" textLength="17.30" lengthAdjust="spacingAndGlyphs" >HO-1</text>
<text x="512.50" y="91.60" font-size="7.6" text-anchor="middle" fill="#333" >Ω</text>
<line x1="480.60" y1="123.50" x2="480.60" y2="140.80" stroke="#222" stroke-width="1.1" />
<line x1="478.50" y1="123.50" x2="482.70" y2="123.50" stroke="#222" stroke-width="1.1" />
<line x1="478.50" y1="140.80" x2="482.70" y2="140.80" stroke="#222" stroke-width="1.1" />
<circle cx="480.6" cy="132.5" r="1.2" fill="#111"/>
<text x="485.00" y="136.10" font-size="7.5" text-anchor="start" fill="#222" textLength="13.90" lengthAdjust="spacingAndGlyphs" >TNF</text>
<text x="512.50" y="134.90" font-size="7.6" text-anchor="middle" fill="#333" >Ω</text>
<line x1="273.40" y1="203.50" x2="273.40" y2="298.50" stroke="#666" stroke-width="1" />
<line x1="271.40" y1="204.00" x2="273.40" y2="204.00" stroke="#666" stroke-width="1" />
<text x="271.00" y="206.90" font-size="8.2" text-anchor="end" fill="#222" textLength="7.80" lengthAdjust="spacingAndGlyphs" >10</text>
<line x1="271.40" y1="235.50" x2="273.40" y2="235.50" stroke="#666" stroke-width="1" />
<text x="271.00" y="238.40" font-size="8.2" text-anchor="end" fill="#222" textLength="3.90" lengthAdjust="spacingAndGlyphs" >0</text>
<line x1="271.40" y1="267.00" x2="273.40" y2="267.00" stroke="#666" stroke-width="1" />
<text x="271.00" y="269.90" font-size="8.2" text-anchor="end" fill="#222" textLength="10.80" lengthAdjust="spacingAndGlyphs" >-10</text>
<line x1="271.40" y1="298.50" x2="273.40" y2="298.50" stroke="#666" stroke-width="1" />
<text x="271.00" y="301.40" font-size="8.2" text-anchor="end" fill="#222" textLength="10.80" lengthAdjust="spacingAndGlyphs" >-20</text>
<line x1="273.40" y1="235.50" x2="358.40" y2="235.50" stroke="#444" stroke-width="1" />
<line x1="280.10" y1="235.50" x2="280.10" y2="233.70" stroke="#444" stroke-width="0.9" />
<text x="280.10" y="230.10" font-size="6.8" text-anchor="middle" fill="#222" >0</text>
<line x1="294.30" y1="235.50" x2="294.30" y2="233.70" stroke="#444" stroke-width="0.9" />
<text x="294.30" y="230.10" font-size="6.8" text-anchor="middle" fill="#222" >7</text>
<line x1="308.60" y1="235.50" x2="308.60" y2="233.70" stroke="#444" stroke-width="0.9" />
<text x="308.60" y="230.10" font-size="6.8" text-anchor="middle" fill="#222" >14</text>
<line x1="322.80" y1="235.50" x2="322.80" y2="233.70" stroke="#444" stroke-width="0.9" />
<text x="322.80" y="230.10" font-size="6.8" text-anchor="middle" fill="#222" >21</text>
<line x1="337.00" y1="235.50" x2="337.00" y2="233.70" stroke="#444" stroke-width="0.9" />
<text x="337.00" y="230.10" font-size="6.8" text-anchor="middle" fill="#222" >28</text>
<line x1="351.20" y1="235.50" x2="351.20" y2="233.70" stroke="#444" stroke-width="0.9" />
<text x="351.20" y="230.10" font-size="6.8" text-anchor="middle" fill="#222" >35</text>
<text x="315.70" y="216.60" font-size="9" text-anchor="middle" fill="#111" textLength="19.30" lengthAdjust="spacingAndGlyphs" >Days</text>
<text x="259.20" y="250.50" font-size="9.5" text-anchor="middle" fill="#222" textLength="92.50" lengthAdjust="spacingAndGlyphs" transform="rotate(-90 259.20 250.50)" >Body Weight Change (%)</text>
<line x1="294.30" y1="240.54" x2="294.30" y2="243.69" stroke="#5f8c84" stroke-width="0.8" />
<line x1="292.80" y1="240.54" x2="295.80" y2="240.54" stroke="#5f8c84" stroke-width="0.8" />
<line x1="292.80" y1="243.69" x2="295.80" y2="243.69" stroke="#5f8c84" stroke-width="0.8" />
<line x1="308.60" y1="238.02" x2="308.60" y2="243.06" stroke="#5f8c84" stroke-width="0.8" />
<line x1="307.10" y1="238.02" x2="310.10" y2="238.02" stroke="#5f8c84" stroke-width="0.8" />
<line x1="307.10" y1="243.06" x2="310.10" y2="243.06" stroke="#5f8c84" stroke-width="0.8" />
<line x1="322.80" y1="235.50" x2="322.80" y2="238.65" stroke="#5f8c84" stroke-width="0.8" />
<line x1="321.30" y1="235.50" x2="324.30" y2="235.50" stroke="#5f8c84" stroke-width="0.8" />
<line x1="321.30" y1="238.65" x2="324.30" y2="238.65" stroke="#5f8c84" stroke-width="0.8" />
<line x1="337.00" y1="234.24" x2="337.00" y2="236.76" stroke="#5f8c84" stroke-width="0.8" />
<line x1="335.50" y1="234.24" x2="338.50" y2="234.24" stroke="#5f8c84" stroke-width="0.8" />
<line x1="335.50" y1="236.76" x2="338.50" y2="236.76" stroke="#5f8c84" stroke-width="0.8" />
<line x1="351.20" y1="234.24" x2="351.20" y2="236.13" stroke="#5f8c84" stroke-width="0.8" />
<line x1="349.70" y1="234.24" x2="352.70" y2="234.24" stroke="#5f8c84" stroke-width="0.8" />
<line x1="349.70" y1="236.13" x2="352.70" y2="236.13" stroke="#5f8c84" stroke-width="0.8" />
<polyline points="280.10,235.50 294.30,242.12 308.60,240.54 322.80,237.07 337.00,235.50 351.20,235.19" stroke="#5f8c84" stroke-width="1.35" fill="none" />
<polygon points="277.70,235.50 280.10,233.10 282.50,235.50 280.10,237.90" fill="#5f8c84"/>
<polygon points="291.90,242.12 294.30,239.72 296.70,242.12 294.30,244.52" fill="#5f8c84"/>
<polygon points="306.20,240.54 308.60,238.14 311.00,240.54 308.60,242.94" fill="#5f8c84"/>
<polygon points="320.40,237.07 322.80,234.67 325.20,237.07 322.80,239.47" fill="#5f8c84"/>
<polygon points="334.60,235.50 337.00,233.10 339.40,235.50 337.00,237.90" fill="#5f8c84"/>
<polygon points="348.80,235.19 351.20,232.78 353.60,235.19 351.20,237.59" fill="#5f8c84"/>
<line x1="294.30" y1="264.79" x2="294.30" y2="272.99" stroke="#9595d2" stroke-width="0.8" />
<line x1="292.80" y1="264.79" x2="295.80" y2="264.79" stroke="#9595d2" stroke-width="0.8" />
<line x1="292.80" y1="272.99" x2="295.80" y2="272.99" stroke="#9595d2" stroke-width="0.8" />
<line x1="308.60" y1="254.09" x2="308.60" y2="276.76" stroke="#9595d2" stroke-width="0.8" />
<line x1="307.10" y1="254.09" x2="310.10" y2="254.09" stroke="#9595d2" stroke-width="0.8" />
<line x1="307.10" y1="276.76" x2="310.10" y2="276.76" stroke="#9595d2" stroke-width="0.8" />
<line x1="322.80" y1="247.47" x2="322.80" y2="251.25" stroke="#9595d2" stroke-width="0.8" />
<line x1="321.30" y1="247.47" x2="324.30" y2="247.47" stroke="#9595d2" stroke-width="0.8" />
<line x1="321.30" y1="251.25" x2="324.30" y2="251.25" stroke="#9595d2" stroke-width="0.8" />
<line x1="337.00" y1="236.45" x2="337.00" y2="240.22" stroke="#9595d2" stroke-width="0.8" />
<line x1="335.50" y1="236.45" x2="338.50" y2="236.45" stroke="#9595d2" stroke-width="0.8" />
<line x1="335.50" y1="240.22" x2="338.50" y2="240.22" stroke="#9595d2" stroke-width="0.8" />
<line x1="351.20" y1="235.19" x2="351.20" y2="238.33" stroke="#9595d2" stroke-width="0.8" />
<line x1="349.70" y1="235.19" x2="352.70" y2="235.19" stroke="#9595d2" stroke-width="0.8" />
<line x1="349.70" y1="238.33" x2="352.70" y2="238.33" stroke="#9595d2" stroke-width="0.8" />
<polyline points="280.10,235.50 294.30,268.89 308.60,265.43 322.80,249.36 337.00,238.34 351.20,236.76" stroke="#9595d2" stroke-width="1.35" fill="none" />
<polygon points="277.58,233.58 282.62,233.58 280.10,238.02" fill="#9595d2"/>
<polygon points="291.78,266.97 296.82,266.97 294.30,271.41" fill="#9595d2"/>
<polygon points="306.08,263.50 311.12,263.50 308.60,267.94" fill="#9595d2"/>
<polygon points="320.28,247.44 325.32,247.44 322.80,251.88" fill="#9595d2"/>
<polygon points="334.48,236.42 339.52,236.42 337.00,240.86" fill="#9595d2"/>
<polygon points="348.68,234.84 353.72,234.84 351.20,239.28" fill="#9595d2"/>
<line x1="294.30" y1="243.06" x2="294.30" y2="246.21" stroke="#c8323c" stroke-width="0.8" />
<line x1="292.80" y1="243.06" x2="295.80" y2="243.06" stroke="#c8323c" stroke-width="0.8" />
<line x1="292.80" y1="246.21" x2="295.80" y2="246.21" stroke="#c8323c" stroke-width="0.8" />
<line x1="308.60" y1="240.54" x2="308.60" y2="244.32" stroke="#c8323c" stroke-width="0.8" />
<line x1="307.10" y1="240.54" x2="310.10" y2="240.54" stroke="#c8323c" stroke-width="0.8" />
<line x1="307.10" y1="244.32" x2="310.10" y2="244.32" stroke="#c8323c" stroke-width="0.8" />
<line x1="322.80" y1="239.91" x2="322.80" y2="243.69" stroke="#c8323c" stroke-width="0.8" />
<line x1="321.30" y1="239.91" x2="324.30" y2="239.91" stroke="#c8323c" stroke-width="0.8" />
<line x1="321.30" y1="243.69" x2="324.30" y2="243.69" stroke="#c8323c" stroke-width="0.8" />
<line x1="337.00" y1="240.23" x2="337.00" y2="243.38" stroke="#c8323c" stroke-width="0.8" />
<line x1="335.50" y1="240.23" x2="338.50" y2="240.23" stroke="#c8323c" stroke-width="0.8" />
<line x1="335.50" y1="243.38" x2="338.50" y2="243.38" stroke="#c8323c" stroke-width="0.8" />
<line x1="351.20" y1="235.19" x2="351.20" y2="237.07" stroke="#c8323c" stroke-width="0.8" />
<line x1="349.70" y1="235.19" x2="352.70" y2="235.19" stroke="#c8323c" stroke-width="0.8" />
<line x1="349.70" y1="237.07" x2="352.70" y2="237.07" stroke="#c8323c" stroke-width="0.8" />
<polyline points="280.10,235.50 294.30,244.63 308.60,242.43 322.80,241.80 337.00,241.80 351.20,236.13" stroke="#c8323c" stroke-width="1.35" fill="none" />
<rect x="278.06" y="233.46" width="4.08" height="4.08" fill="#c8323c"/>
<rect x="292.26" y="242.59" width="4.08" height="4.08" fill="#c8323c"/>
<rect x="306.56" y="240.39" width="4.08" height="4.08" fill="#c8323c"/>
<rect x="320.76" y="239.76" width="4.08" height="4.08" fill="#c8323c"/>
<rect x="334.96" y="239.76" width="4.08" height="4.08" fill="#c8323c"/>
<rect x="349.16" y="234.09" width="4.08" height="4.08" fill="#c8323c"/>
<line x1="294.30" y1="247.79" x2="294.30" y2="251.56" stroke="#1a1a1a" stroke-width="0.8" />
<line x1="292.80" y1="247.79" x2="295.80" y2="247.79" stroke="#1a1a1a" stroke-width="0.8" />
<line x1="292.80" y1="251.56" x2="295.80" y2="251.56" stroke="#1a1a1a" stroke-width="0.8" />
<line x1="308.60" y1="241.17" x2="308.60" y2="249.36" stroke="#1a1a1a" stroke-width="0.8" />
<line x1="307.10" y1="241.17" x2="310.10" y2="241.17" stroke="#1a1a1a" stroke-width="0.8" />
<line x1="307.10" y1="249.36" x2="310.10" y2="249.36" stroke="#1a1a1a" stroke-width="0.8" />
<line x1="322.80" y1="240.54" x2="322.80" y2="245.58" stroke="#1a1a1a" stroke-width="0.8" />
<line x1="321.30" y1="240.54" x2="324.30" y2="240.54" stroke="#1a1a1a" stroke-width="0.8" />
<line x1="321.30" y1="245.58" x2="324.30" y2="245.58" stroke="#1a1a1a" stroke-width="0.8" />
<line x1="337.00" y1="232.98" x2="337.00" y2="236.13" stroke="#1a1a1a" stroke-width="0.8" />
<line x1="335.50" y1="232.98" x2="338.50" y2="232.98" stroke="#1a1a1a" stroke-width="0.8" />
<line x1="335.50" y1="236.13" x2="338.50" y2="236.13" stroke="#1a1a1a" stroke-width="0.8" />
<line x1="351.20" y1="233.61" x2="351.20" y2="236.13" stroke="#1a1a1a" stroke-width="0.8" />
<line x1="349.70" y1="233.61" x2="352.70" y2="233.61" stroke="#1a1a1a" stroke-width="0.8" />
<line x1="349.70" y1="236.13" x2="352.70" y2="236.13" stroke="#1a1a1a" stroke-width="0.8" />
<polyline points="280.10,235.50 294.30,249.68 308.60,245.26 322.80,243.06 337.00,234.56 351.20,234.87" stroke="#1a1a1a" stroke-width="1.35" fill="none" />
<polygon points="277.58,237.42 282.62,237.42 280.10,232.98" fill="#1a1a1a"/>
<polygon points="291.78,251.59 296.82,251.59 294.30,247.16" fill="#1a1a1a"/>
<polygon points="306.08,247.18 311.12,247.18 308.60,242.74" fill="#1a1a1a"/>
<polygon points="320.28,244.98 325.32,244.98 322.80,240.54" fill="#1a1a1a"/>
<polygon points="334.48,236.47 339.52,236.47 337.00,232.03" fill="#1a1a1a"/>
<polygon points="348.68,236.79 353.72,236.79 351.20,232.35" fill="#1a1a1a"/>
<line x1="315.30" y1="271.70" x2="322.30" y2="271.70" stroke="#c8323c" stroke-width="1.0" />
<rect x="316.68" y="269.57" width="4.25" height="4.25" fill="#c8323c"/>
<text x="326.90" y="274.00" font-size="6.6" text-anchor="start" fill="#222" textLength="29.60" lengthAdjust="spacingAndGlyphs" >AAT/Albumin</text>
<line x1="315.30" y1="280.50" x2="322.30" y2="280.50" stroke="#9595d2" stroke-width="1.0" />
<polygon points="316.18,278.50 321.43,278.50 318.80,283.12" fill="#9595d2"/>
<text x="326.90" y="282.80" font-size="6.6" text-anchor="start" fill="#222" textLength="38.40" lengthAdjust="spacingAndGlyphs" >Albumin/Albumin</text>
<line x1="315.30" y1="289.20" x2="322.30" y2="289.20" stroke="#5f8c84" stroke-width="1.0" />
<polygon points="316.30,289.20 318.80,286.70 321.30,289.20 318.80,291.70" fill="#5f8c84"/>
<text x="326.90" y="291.50" font-size="6.6" text-anchor="start" fill="#222" textLength="21.00" lengthAdjust="spacingAndGlyphs" >AAT/AAT</text>
<line x1="315.30" y1="297.60" x2="322.30" y2="297.60" stroke="#1a1a1a" stroke-width="1.0" />
<polygon points="316.18,299.60 321.43,299.60 318.80,294.98" fill="#1a1a1a"/>
<text x="326.90" y="299.90" font-size="6.6" text-anchor="start" fill="#222" textLength="29.60" lengthAdjust="spacingAndGlyphs" >Albumin/AAT</text>
<line x1="391.00" y1="207.70" x2="391.00" y2="301.00" stroke="#8a8a8a" stroke-width="1.2" />
<line x1="389.00" y1="208.20" x2="391.00" y2="208.20" stroke="#8a8a8a" stroke-width="1" />
<text x="388.60" y="211.20" font-size="8.4" text-anchor="end" fill="#222" >8</text>
<line x1="389.00" y1="231.40" x2="391.00" y2="231.40" stroke="#8a8a8a" stroke-width="1" />
<text x="388.60" y="234.40" font-size="8.4" text-anchor="end" fill="#222" >6</text>
<line x1="389.00" y1="254.60" x2="391.00" y2="254.60" stroke="#8a8a8a" stroke-width="1" />
<text x="388.60" y="257.60" font-size="8.4" text-anchor="end" fill="#222" >4</text>
<line x1="389.00" y1="277.80" x2="391.00" y2="277.80" stroke="#8a8a8a" stroke-width="1" />
<text x="388.60" y="280.80" font-size="8.4" text-anchor="end" fill="#222" >2</text>
<line x1="389.00" y1="301.00" x2="391.00" y2="301.00" stroke="#8a8a8a" stroke-width="1" />
<text x="388.60" y="304.00" font-size="8.4" text-anchor="end" fill="#222" >0</text>
<line x1="391.00" y1="301.00" x2="474.40" y2="301.00" stroke="#8a8a8a" stroke-width="1.2" />
<line x1="397.70" y1="301.00" x2="397.70" y2="303.00" stroke="#8a8a8a" stroke-width="1" />
<text x="397.70" y="309.90" font-size="9" text-anchor="middle" fill="#1a1a1a" textLength="4.40" lengthAdjust="spacingAndGlyphs" >0</text>
<line x1="411.40" y1="301.00" x2="411.40" y2="303.00" stroke="#8a8a8a" stroke-width="1" />
<text x="411.40" y="309.90" font-size="9" text-anchor="middle" fill="#1a1a1a" textLength="4.40" lengthAdjust="spacingAndGlyphs" >7</text>
<line x1="425.60" y1="301.00" x2="425.60" y2="303.00" stroke="#8a8a8a" stroke-width="1" />
<text x="425.60" y="309.90" font-size="9" text-anchor="middle" fill="#1a1a1a" textLength="8.80" lengthAdjust="spacingAndGlyphs" >14</text>
<line x1="439.20" y1="301.00" x2="439.20" y2="303.00" stroke="#8a8a8a" stroke-width="1" />
<text x="439.20" y="309.90" font-size="9" text-anchor="middle" fill="#1a1a1a" textLength="8.80" lengthAdjust="spacingAndGlyphs" >21</text>
<line x1="453.10" y1="301.00" x2="453.10" y2="303.00" stroke="#8a8a8a" stroke-width="1" />
<text x="453.10" y="309.90" font-size="9" text-anchor="middle" fill="#1a1a1a" textLength="8.80" lengthAdjust="spacingAndGlyphs" >28</text>
<line x1="466.90" y1="301.00" x2="466.90" y2="303.00" stroke="#8a8a8a" stroke-width="1" />
<text x="466.90" y="309.90" font-size="9" text-anchor="middle" fill="#1a1a1a" textLength="8.80" lengthAdjust="spacingAndGlyphs" >35</text>
<text x="432.30" y="318.80" font-size="9.6" text-anchor="middle" fill="#111" textLength="19.20" lengthAdjust="spacingAndGlyphs" >Days</text>
<text x="380.00" y="253.60" font-size="9" text-anchor="middle" fill="#222" textLength="49.80" lengthAdjust="spacingAndGlyphs" transform="rotate(-90 380.00 253.60)" >GVHD Score</text>
<line x1="411.40" y1="240.68" x2="411.40" y2="256.92" stroke="#9595d2" stroke-width="0.8" stroke-opacity="0.7"/>
<line x1="409.80" y1="240.68" x2="413.00" y2="240.68" stroke="#9595d2" stroke-width="0.8" stroke-opacity="0.7"/>
<line x1="409.80" y1="256.92" x2="413.00" y2="256.92" stroke="#9595d2" stroke-width="0.8" stroke-opacity="0.7"/>
<line x1="425.60" y1="248.80" x2="425.60" y2="265.04" stroke="#9595d2" stroke-width="0.8" stroke-opacity="0.7"/>
<line x1="424.00" y1="248.80" x2="427.20" y2="248.80" stroke="#9595d2" stroke-width="0.8" stroke-opacity="0.7"/>
<line x1="424.00" y1="265.04" x2="427.20" y2="265.04" stroke="#9595d2" stroke-width="0.8" stroke-opacity="0.7"/>
<line x1="439.20" y1="252.28" x2="439.20" y2="268.52" stroke="#9595d2" stroke-width="0.8" stroke-opacity="0.7"/>
<line x1="437.60" y1="252.28" x2="440.80" y2="252.28" stroke="#9595d2" stroke-width="0.8" stroke-opacity="0.7"/>
<line x1="437.60" y1="268.52" x2="440.80" y2="268.52" stroke="#9595d2" stroke-width="0.8" stroke-opacity="0.7"/>
<line x1="453.10" y1="263.30" x2="453.10" y2="279.54" stroke="#9595d2" stroke-width="0.8" stroke-opacity="0.7"/>
<line x1="451.50" y1="263.30" x2="454.70" y2="263.30" stroke="#9595d2" stroke-width="0.8" stroke-opacity="0.7"/>
<line x1="451.50" y1="279.54" x2="454.70" y2="279.54" stroke="#9595d2" stroke-width="0.8" stroke-opacity="0.7"/>
<line x1="466.90" y1="275.48" x2="466.90" y2="290.56" stroke="#9595d2" stroke-width="0.8" stroke-opacity="0.7"/>
<line x1="465.30" y1="275.48" x2="468.50" y2="275.48" stroke="#9595d2" stroke-width="0.8" stroke-opacity="0.7"/>
<line x1="465.30" y1="290.56" x2="468.50" y2="290.56" stroke="#9595d2" stroke-width="0.8" stroke-opacity="0.7"/>
<polyline points="397.70,301.00 411.40,248.80 425.60,256.92 439.20,260.40 453.10,271.42 466.90,283.02" stroke="#9595d2" stroke-width="1.2" fill="none" />
<circle cx="397.70" cy="301.00" r="1.44" fill="#9595d2"/>
<circle cx="411.40" cy="248.80" r="1.44" fill="#9595d2"/>
<circle cx="425.60" cy="256.92" r="1.44" fill="#9595d2"/>
<circle cx="439.20" cy="260.40" r="1.44" fill="#9595d2"/>
<circle cx="453.10" cy="271.42" r="1.44" fill="#9595d2"/>
<circle cx="466.90" cy="283.02" r="1.44" fill="#9595d2"/>
<line x1="411.40" y1="263.88" x2="411.40" y2="280.12" stroke="#1a1a1a" stroke-width="0.8" stroke-opacity="0.7"/>
<line x1="409.80" y1="263.88" x2="413.00" y2="263.88" stroke="#1a1a1a" stroke-width="0.8" stroke-opacity="0.7"/>
<line x1="409.80" y1="280.12" x2="413.00" y2="280.12" stroke="#1a1a1a" stroke-width="0.8" stroke-opacity="0.7"/>
<line x1="425.60" y1="249.96" x2="425.60" y2="282.44" stroke="#1a1a1a" stroke-width="0.8" stroke-opacity="0.7"/>
<line x1="424.00" y1="249.96" x2="427.20" y2="249.96" stroke="#1a1a1a" stroke-width="0.8" stroke-opacity="0.7"/>
<line x1="424.00" y1="282.44" x2="427.20" y2="282.44" stroke="#1a1a1a" stroke-width="0.8" stroke-opacity="0.7"/>
<line x1="439.20" y1="256.34" x2="439.20" y2="281.86" stroke="#1a1a1a" stroke-width="0.8" stroke-opacity="0.7"/>
<line x1="437.60" y1="256.34" x2="440.80" y2="256.34" stroke="#1a1a1a" stroke-width="0.8" stroke-opacity="0.7"/>
<line x1="437.60" y1="281.86" x2="440.80" y2="281.86" stroke="#1a1a1a" stroke-width="0.8" stroke-opacity="0.7"/>
<line x1="453.10" y1="275.48" x2="453.10" y2="291.72" stroke="#1a1a1a" stroke-width="0.8" stroke-opacity="0.7"/>
<line x1="451.50" y1="275.48" x2="454.70" y2="275.48" stroke="#1a1a1a" stroke-width="0.8" stroke-opacity="0.7"/>
<line x1="451.50" y1="291.72" x2="454.70" y2="291.72" stroke="#1a1a1a" stroke-width="0.8" stroke-opacity="0.7"/>
<line x1="466.90" y1="285.92" x2="466.90" y2="292.88" stroke="#1a1a1a" stroke-width="0.8" stroke-opacity="0.7"/>
<line x1="465.30" y1="285.92" x2="468.50" y2="285.92" stroke="#1a1a1a" stroke-width="0.8" stroke-opacity="0.7"/>
<line x1="465.30" y1="292.88" x2="468.50" y2="292.88" stroke="#1a1a1a" stroke-width="0.8" stroke-opacity="0.7"/>
<polyline points="397.70,301.00 411.40,272.00 425.60,266.20 439.20,269.10 453.10,283.60 466.90,289.40" stroke="#1a1a1a" stroke-width="1.2" fill="none" />
<circle cx="397.70" cy="301.00" r="1.44" fill="#1a1a1a"/>
<circle cx="411.40" cy="272.00" r="1.44" fill="#1a1a1a"/>
<circle cx="425.60" cy="266.20" r="1.44" fill="#1a1a1a"/>
<circle cx="439.20" cy="269.10" r="1.44" fill="#1a1a1a"/>
<circle cx="453.10" cy="283.60" r="1.44" fill="#1a1a1a"/>
<circle cx="466.90" cy="289.40" r="1.44" fill="#1a1a1a"/>
<line x1="411.40" y1="286.50" x2="411.40" y2="292.30" stroke="#5f8c84" stroke-width="0.8" stroke-opacity="0.7"/>
<line x1="409.80" y1="286.50" x2="413.00" y2="286.50" stroke="#5f8c84" stroke-width="0.8" stroke-opacity="0.7"/>
<line x1="409.80" y1="292.30" x2="413.00" y2="292.30" stroke="#5f8c84" stroke-width="0.8" stroke-opacity="0.7"/>
<line x1="425.60" y1="285.92" x2="425.60" y2="292.88" stroke="#5f8c84" stroke-width="0.8" stroke-opacity="0.7"/>
<line x1="424.00" y1="285.92" x2="427.20" y2="285.92" stroke="#5f8c84" stroke-width="0.8" stroke-opacity="0.7"/>
<line x1="424.00" y1="292.88" x2="427.20" y2="292.88" stroke="#5f8c84" stroke-width="0.8" stroke-opacity="0.7"/>
<line x1="439.20" y1="276.06" x2="439.20" y2="289.98" stroke="#5f8c84" stroke-width="0.8" stroke-opacity="0.7"/>
<line x1="437.60" y1="276.06" x2="440.80" y2="276.06" stroke="#5f8c84" stroke-width="0.8" stroke-opacity="0.7"/>
<line x1="437.60" y1="289.98" x2="440.80" y2="289.98" stroke="#5f8c84" stroke-width="0.8" stroke-opacity="0.7"/>
<line x1="453.10" y1="291.14" x2="453.10" y2="298.10" stroke="#5f8c84" stroke-width="0.8" stroke-opacity="0.7"/>
<line x1="451.50" y1="291.14" x2="454.70" y2="291.14" stroke="#5f8c84" stroke-width="0.8" stroke-opacity="0.7"/>
<line x1="451.50" y1="298.10" x2="454.70" y2="298.10" stroke="#5f8c84" stroke-width="0.8" stroke-opacity="0.7"/>
<line x1="466.90" y1="291.72" x2="466.90" y2="298.68" stroke="#5f8c84" stroke-width="0.8" stroke-opacity="0.7"/>
<line x1="465.30" y1="291.72" x2="468.50" y2="291.72" stroke="#5f8c84" stroke-width="0.8" stroke-opacity="0.7"/>
<line x1="465.30" y1="298.68" x2="468.50" y2="298.68" stroke="#5f8c84" stroke-width="0.8" stroke-opacity="0.7"/>
<polyline points="397.70,301.00 411.40,289.40 425.60,289.40 439.20,283.02 453.10,294.62 466.90,295.20" stroke="#5f8c84" stroke-width="1.2" fill="none" />
<circle cx="397.70" cy="301.00" r="1.44" fill="#5f8c84"/>
<circle cx="411.40" cy="289.40" r="1.44" fill="#5f8c84"/>
<circle cx="425.60" cy="289.40" r="1.44" fill="#5f8c84"/>
<circle cx="439.20" cy="283.02" r="1.44" fill="#5f8c84"/>
<circle cx="453.10" cy="294.62" r="1.44" fill="#5f8c84"/>
<circle cx="466.90" cy="295.20" r="1.44" fill="#5f8c84"/>
<line x1="411.40" y1="277.80" x2="411.40" y2="289.40" stroke="#c8323c" stroke-width="0.8" stroke-opacity="0.7"/>
<line x1="409.80" y1="277.80" x2="413.00" y2="277.80" stroke="#c8323c" stroke-width="0.8" stroke-opacity="0.7"/>
<line x1="409.80" y1="289.40" x2="413.00" y2="289.40" stroke="#c8323c" stroke-width="0.8" stroke-opacity="0.7"/>
<line x1="425.60" y1="273.74" x2="425.60" y2="287.66" stroke="#c8323c" stroke-width="0.8" stroke-opacity="0.7"/>
<line x1="424.00" y1="273.74" x2="427.20" y2="273.74" stroke="#c8323c" stroke-width="0.8" stroke-opacity="0.7"/>
<line x1="424.00" y1="287.66" x2="427.20" y2="287.66" stroke="#c8323c" stroke-width="0.8" stroke-opacity="0.7"/>
<line x1="439.20" y1="281.28" x2="439.20" y2="290.56" stroke="#c8323c" stroke-width="0.8" stroke-opacity="0.7"/>
<line x1="437.60" y1="281.28" x2="440.80" y2="281.28" stroke="#c8323c" stroke-width="0.8" stroke-opacity="0.7"/>
<line x1="437.60" y1="290.56" x2="440.80" y2="290.56" stroke="#c8323c" stroke-width="0.8" stroke-opacity="0.7"/>
<line x1="453.10" y1="291.72" x2="453.10" y2="298.68" stroke="#c8323c" stroke-width="0.8" stroke-opacity="0.7"/>
<line x1="451.50" y1="291.72" x2="454.70" y2="291.72" stroke="#c8323c" stroke-width="0.8" stroke-opacity="0.7"/>
<line x1="451.50" y1="298.68" x2="454.70" y2="298.68" stroke="#c8323c" stroke-width="0.8" stroke-opacity="0.7"/>
<line x1="466.90" y1="291.72" x2="466.90" y2="298.68" stroke="#c8323c" stroke-width="0.8" stroke-opacity="0.7"/>
<line x1="465.30" y1="291.72" x2="468.50" y2="291.72" stroke="#c8323c" stroke-width="0.8" stroke-opacity="0.7"/>
<line x1="465.30" y1="298.68" x2="468.50" y2="298.68" stroke="#c8323c" stroke-width="0.8" stroke-opacity="0.7"/>
<polyline points="397.70,301.00 411.40,283.60 425.60,280.70 439.20,285.92 453.10,295.20 466.90,295.20" stroke="#c8323c" stroke-width="1.2" fill="none" />
<circle cx="397.70" cy="301.00" r="1.44" fill="#c8323c"/>
<circle cx="411.40" cy="283.60" r="1.44" fill="#c8323c"/>
<circle cx="425.60" cy="280.70" r="1.44" fill="#c8323c"/>
<circle cx="439.20" cy="285.92" r="1.44" fill="#c8323c"/>
<circle cx="453.10" cy="295.20" r="1.44" fill="#c8323c"/>
<circle cx="466.90" cy="295.20" r="1.44" fill="#c8323c"/>
<line x1="414.00" y1="201.60" x2="420.80" y2="201.60" stroke="#9595d2" stroke-width="0.9" />
<circle cx="417.40" cy="201.60" r="1.44" fill="#9595d2"/>
<text x="423.80" y="204.30" font-size="7.6" text-anchor="start" fill="#2a2a2a" textLength="52.80" lengthAdjust="spacingAndGlyphs" >Albumin/Albumin</text>
<line x1="414.00" y1="212.20" x2="420.80" y2="212.20" stroke="#1a1a1a" stroke-width="0.9" />
<polygon points="415.51,213.64 419.29,213.64 417.40,210.31" fill="#1a1a1a"/>
<text x="423.80" y="214.90" font-size="7.6" text-anchor="start" fill="#2a2a2a" textLength="40.20" lengthAdjust="spacingAndGlyphs" >Albumin/AAT</text>
<line x1="414.00" y1="223.20" x2="420.80" y2="223.20" stroke="#c8323c" stroke-width="0.9" />
<circle cx="417.40" cy="223.20" r="1.44" fill="#c8323c"/>
<text x="423.80" y="225.90" font-size="7.6" text-anchor="start" fill="#2a2a2a" textLength="40.20" lengthAdjust="spacingAndGlyphs" >AAT/Albumin</text>
<line x1="414.00" y1="234.00" x2="420.80" y2="234.00" stroke="#5f8c84" stroke-width="0.9" />
<polygon points="415.60,234.00 417.40,232.20 419.20,234.00 417.40,235.80" fill="#5f8c84"/>
<text x="423.80" y="236.70" font-size="7.6" text-anchor="start" fill="#2a2a2a" textLength="28.10" lengthAdjust="spacingAndGlyphs" >AAT/AAT</text>
<line x1="476.00" y1="211.20" x2="476.00" y2="234.80" stroke="#777" stroke-width="1.1" />
<line x1="470.30" y1="211.20" x2="476.55" y2="211.20" stroke="#777" stroke-width="1.1" />
<line x1="470.30" y1="234.80" x2="476.55" y2="234.80" stroke="#777" stroke-width="1.1" />
<line x1="500.00" y1="202.00" x2="500.00" y2="234.80" stroke="#777" stroke-width="1.1" />
<line x1="492.90" y1="202.00" x2="500.55" y2="202.00" stroke="#777" stroke-width="1.1" />
<line x1="492.90" y1="234.80" x2="500.55" y2="234.80" stroke="#777" stroke-width="1.1" />
<rect x="468.50" y="221.30" width="22.80" height="7.2" fill="#fff"/>
<text x="479.90" y="227.78" font-size="8.0" text-anchor="middle" fill="#333" textLength="22.20" lengthAdjust="spacingAndGlyphs"><tspan font-style="italic">p</tspan> = 0.03</text>
<rect x="493.90" y="214.50" width="25.40" height="7.2" fill="#fff"/>
<text x="506.60" y="220.98" font-size="8.0" text-anchor="middle" fill="#333" textLength="24.80" lengthAdjust="spacingAndGlyphs"><tspan font-style="italic">p</tspan> = 0.001</text>
<line x1="275.80" y1="364.10" x2="275.80" y2="456.70" stroke="#666" stroke-width="1" />
<line x1="273.80" y1="364.60" x2="275.80" y2="364.60" stroke="#666" stroke-width="1" />
<text x="273.40" y="367.50" font-size="8.2" text-anchor="end" fill="#222" textLength="7.80" lengthAdjust="spacingAndGlyphs" >10</text>
<line x1="273.80" y1="395.30" x2="275.80" y2="395.30" stroke="#666" stroke-width="1" />
<text x="273.40" y="398.20" font-size="8.2" text-anchor="end" fill="#222" textLength="3.90" lengthAdjust="spacingAndGlyphs" >0</text>
<line x1="273.80" y1="426.00" x2="275.80" y2="426.00" stroke="#666" stroke-width="1" />
<text x="273.40" y="428.90" font-size="8.2" text-anchor="end" fill="#222" textLength="10.80" lengthAdjust="spacingAndGlyphs" >-10</text>
<line x1="273.80" y1="456.70" x2="275.80" y2="456.70" stroke="#666" stroke-width="1" />
<text x="273.40" y="459.60" font-size="8.2" text-anchor="end" fill="#222" textLength="10.80" lengthAdjust="spacingAndGlyphs" >-20</text>
<line x1="275.80" y1="395.30" x2="359.90" y2="395.30" stroke="#444" stroke-width="1" />
<line x1="282.60" y1="395.30" x2="282.60" y2="393.50" stroke="#444" stroke-width="0.9" />
<text x="282.60" y="389.90" font-size="6.8" text-anchor="middle" fill="#222" >0</text>
<line x1="296.80" y1="395.30" x2="296.80" y2="393.50" stroke="#444" stroke-width="0.9" />
<text x="296.80" y="389.90" font-size="6.8" text-anchor="middle" fill="#222" >7</text>
<line x1="311.10" y1="395.30" x2="311.10" y2="393.50" stroke="#444" stroke-width="0.9" />
<text x="311.10" y="389.90" font-size="6.8" text-anchor="middle" fill="#222" >14</text>
<line x1="324.70" y1="395.30" x2="324.70" y2="393.50" stroke="#444" stroke-width="0.9" />
<text x="324.70" y="389.90" font-size="6.8" text-anchor="middle" fill="#222" >21</text>
<line x1="338.60" y1="395.30" x2="338.60" y2="393.50" stroke="#444" stroke-width="0.9" />
<text x="338.60" y="389.90" font-size="6.8" text-anchor="middle" fill="#222" >28</text>
<line x1="352.70" y1="395.30" x2="352.70" y2="393.50" stroke="#444" stroke-width="0.9" />
<text x="352.70" y="389.90" font-size="6.8" text-anchor="middle" fill="#222" >35</text>
<text x="318.00" y="375.80" font-size="9" text-anchor="middle" fill="#111" textLength="18.70" lengthAdjust="spacingAndGlyphs" >Days</text>
<text x="261.20" y="409.80" font-size="9.5" text-anchor="middle" fill="#222" textLength="89.50" lengthAdjust="spacingAndGlyphs" transform="rotate(-90 261.20 409.80)" >Body Weight Change (%)</text>
<line x1="296.80" y1="424.47" x2="296.80" y2="432.45" stroke="#9595d2" stroke-width="0.8" />
<line x1="295.30" y1="424.47" x2="298.30" y2="424.47" stroke="#9595d2" stroke-width="0.8" />
<line x1="295.30" y1="432.45" x2="298.30" y2="432.45" stroke="#9595d2" stroke-width="0.8" />
<line x1="311.10" y1="416.48" x2="311.10" y2="420.17" stroke="#9595d2" stroke-width="0.8" />
<line x1="309.60" y1="416.48" x2="312.60" y2="416.48" stroke="#9595d2" stroke-width="0.8" />
<line x1="309.60" y1="420.17" x2="312.60" y2="420.17" stroke="#9595d2" stroke-width="0.8" />
<line x1="324.70" y1="406.66" x2="324.70" y2="410.34" stroke="#9595d2" stroke-width="0.8" />
<line x1="323.20" y1="406.66" x2="326.20" y2="406.66" stroke="#9595d2" stroke-width="0.8" />
<line x1="323.20" y1="410.34" x2="326.20" y2="410.34" stroke="#9595d2" stroke-width="0.8" />
<line x1="338.60" y1="397.45" x2="338.60" y2="400.52" stroke="#9595d2" stroke-width="0.8" />
<line x1="337.10" y1="397.45" x2="340.10" y2="397.45" stroke="#9595d2" stroke-width="0.8" />
<line x1="337.10" y1="400.52" x2="340.10" y2="400.52" stroke="#9595d2" stroke-width="0.8" />
<line x1="352.70" y1="397.14" x2="352.70" y2="399.60" stroke="#9595d2" stroke-width="0.8" />
<line x1="351.20" y1="397.14" x2="354.20" y2="397.14" stroke="#9595d2" stroke-width="0.8" />
<line x1="351.20" y1="399.60" x2="354.20" y2="399.60" stroke="#9595d2" stroke-width="0.8" />
<polyline points="282.60,395.30 296.80,428.46 311.10,418.32 324.70,408.50 338.60,398.98 352.70,398.37" stroke="#9595d2" stroke-width="1.35" fill="none" />
<polygon points="280.08,393.38 285.12,393.38 282.60,397.82" fill="#9595d2"/>
<polygon points="294.28,426.54 299.32,426.54 296.80,430.98" fill="#9595d2"/>
<polygon points="308.58,416.40 313.62,416.40 311.10,420.84" fill="#9595d2"/>
<polygon points="322.18,406.58 327.22,406.58 324.70,411.02" fill="#9595d2"/>
<polygon points="336.08,397.06 341.12,397.06 338.60,401.50" fill="#9595d2"/>
<polygon points="350.18,396.45 355.22,396.45 352.70,400.89" fill="#9595d2"/>
<line x1="296.80" y1="401.13" x2="296.80" y2="403.59" stroke="#5f8c84" stroke-width="0.8" />
<line x1="295.30" y1="401.13" x2="298.30" y2="401.13" stroke="#5f8c84" stroke-width="0.8" />
<line x1="295.30" y1="403.59" x2="298.30" y2="403.59" stroke="#5f8c84" stroke-width="0.8" />
<line x1="311.10" y1="401.13" x2="311.10" y2="403.59" stroke="#5f8c84" stroke-width="0.8" />
<line x1="309.60" y1="401.13" x2="312.60" y2="401.13" stroke="#5f8c84" stroke-width="0.8" />
<line x1="309.60" y1="403.59" x2="312.60" y2="403.59" stroke="#5f8c84" stroke-width="0.8" />
<line x1="324.70" y1="397.14" x2="324.70" y2="400.21" stroke="#5f8c84" stroke-width="0.8" />
<line x1="323.20" y1="397.14" x2="326.20" y2="397.14" stroke="#5f8c84" stroke-width="0.8" />
<line x1="323.20" y1="400.21" x2="326.20" y2="400.21" stroke="#5f8c84" stroke-width="0.8" />
<line x1="338.60" y1="392.54" x2="338.60" y2="395.61" stroke="#5f8c84" stroke-width="0.8" />
<line x1="337.10" y1="392.54" x2="340.10" y2="392.54" stroke="#5f8c84" stroke-width="0.8" />
<line x1="337.10" y1="395.61" x2="340.10" y2="395.61" stroke="#5f8c84" stroke-width="0.8" />
<line x1="352.70" y1="393.15" x2="352.70" y2="396.83" stroke="#5f8c84" stroke-width="0.8" />
<line x1="351.20" y1="393.15" x2="354.20" y2="393.15" stroke="#5f8c84" stroke-width="0.8" />
<line x1="351.20" y1="396.83" x2="354.20" y2="396.83" stroke="#5f8c84" stroke-width="0.8" />
<polyline points="282.60,395.30 296.80,402.36 311.10,402.36 324.70,398.68 338.60,394.07 352.70,394.99" stroke="#5f8c84" stroke-width="1.35" fill="none" />
<polygon points="280.20,395.30 282.60,392.90 285.00,395.30 282.60,397.70" fill="#5f8c84"/>
<polygon points="294.40,402.36 296.80,399.96 299.20,402.36 296.80,404.76" fill="#5f8c84"/>
<polygon points="308.70,402.36 311.10,399.96 313.50,402.36 311.10,404.76" fill="#5f8c84"/>
<polygon points="322.30,398.68 324.70,396.28 327.10,398.68 324.70,401.08" fill="#5f8c84"/>
<polygon points="336.20,394.07 338.60,391.67 341.00,394.07 338.60,396.47" fill="#5f8c84"/>
<polygon points="350.30,394.99 352.70,392.59 355.10,394.99 352.70,397.39" fill="#5f8c84"/>
<line x1="296.80" y1="401.13" x2="296.80" y2="403.59" stroke="#8f8488" stroke-width="0.8" />
<line x1="295.30" y1="401.13" x2="298.30" y2="401.13" stroke="#8f8488" stroke-width="0.8" />
<line x1="295.30" y1="403.59" x2="298.30" y2="403.59" stroke="#8f8488" stroke-width="0.8" />
<line x1="311.10" y1="401.13" x2="311.10" y2="403.59" stroke="#8f8488" stroke-width="0.8" />
<line x1="309.60" y1="401.13" x2="312.60" y2="401.13" stroke="#8f8488" stroke-width="0.8" />
<line x1="309.60" y1="403.59" x2="312.60" y2="403.59" stroke="#8f8488" stroke-width="0.8" />
<line x1="324.70" y1="397.14" x2="324.70" y2="400.21" stroke="#8f8488" stroke-width="0.8" />
<line x1="323.20" y1="397.14" x2="326.20" y2="397.14" stroke="#8f8488" stroke-width="0.8" />
<line x1="323.20" y1="400.21" x2="326.20" y2="400.21" stroke="#8f8488" stroke-width="0.8" />
<line x1="338.60" y1="392.54" x2="338.60" y2="395.61" stroke="#8f8488" stroke-width="0.8" />
<line x1="337.10" y1="392.54" x2="340.10" y2="392.54" stroke="#8f8488" stroke-width="0.8" />
<line x1="337.10" y1="395.61" x2="340.10" y2="395.61" stroke="#8f8488" stroke-width="0.8" />
<line x1="352.70" y1="393.76" x2="352.70" y2="396.84" stroke="#8f8488" stroke-width="0.8" />
<line x1="351.20" y1="393.76" x2="354.20" y2="393.76" stroke="#8f8488" stroke-width="0.8" />
<line x1="351.20" y1="396.84" x2="354.20" y2="396.84" stroke="#8f8488" stroke-width="0.8" />
<polyline points="282.60,395.30 296.80,402.36 311.10,402.36 324.70,398.68 338.60,394.07 352.70,395.30" stroke="#8f8488" stroke-width="1.35" fill="none" />
<rect x="280.56" y="393.26" width="4.08" height="4.08" fill="#8f8488"/>
<rect x="294.76" y="400.32" width="4.08" height="4.08" fill="#8f8488"/>
<rect x="309.06" y="400.32" width="4.08" height="4.08" fill="#8f8488"/>
<rect x="322.66" y="396.64" width="4.08" height="4.08" fill="#8f8488"/>
<rect x="336.56" y="392.03" width="4.08" height="4.08" fill="#8f8488"/>
<rect x="350.66" y="393.26" width="4.08" height="4.08" fill="#8f8488"/>
<line x1="296.80" y1="408.19" x2="296.80" y2="410.65" stroke="#1a1a1a" stroke-width="0.8" />
<line x1="295.30" y1="408.19" x2="298.30" y2="408.19" stroke="#1a1a1a" stroke-width="0.8" />
<line x1="295.30" y1="410.65" x2="298.30" y2="410.65" stroke="#1a1a1a" stroke-width="0.8" />
<line x1="311.10" y1="408.19" x2="311.10" y2="410.65" stroke="#1a1a1a" stroke-width="0.8" />
<line x1="309.60" y1="408.19" x2="312.60" y2="408.19" stroke="#1a1a1a" stroke-width="0.8" />
<line x1="309.60" y1="410.65" x2="312.60" y2="410.65" stroke="#1a1a1a" stroke-width="0.8" />
<line x1="324.70" y1="401.75" x2="324.70" y2="404.82" stroke="#1a1a1a" stroke-width="0.8" />
<line x1="323.20" y1="401.75" x2="326.20" y2="401.75" stroke="#1a1a1a" stroke-width="0.8" />
<line x1="323.20" y1="404.82" x2="326.20" y2="404.82" stroke="#1a1a1a" stroke-width="0.8" />
<line x1="338.60" y1="392.23" x2="338.60" y2="395.30" stroke="#1a1a1a" stroke-width="0.8" />
<line x1="337.10" y1="392.23" x2="340.10" y2="392.23" stroke="#1a1a1a" stroke-width="0.8" />
<line x1="337.10" y1="395.30" x2="340.10" y2="395.30" stroke="#1a1a1a" stroke-width="0.8" />
<line x1="352.70" y1="392.23" x2="352.70" y2="397.14" stroke="#1a1a1a" stroke-width="0.8" />
<line x1="351.20" y1="392.23" x2="354.20" y2="392.23" stroke="#1a1a1a" stroke-width="0.8" />
<line x1="351.20" y1="397.14" x2="354.20" y2="397.14" stroke="#1a1a1a" stroke-width="0.8" />
<polyline points="282.60,395.30 296.80,409.42 311.10,409.42 324.70,403.28 338.60,393.76 352.70,394.69" stroke="#1a1a1a" stroke-width="1.35" fill="none" />
<polygon points="280.08,397.22 285.12,397.22 282.60,392.78" fill="#1a1a1a"/>
<polygon points="294.28,411.34 299.32,411.34 296.80,406.90" fill="#1a1a1a"/>
<polygon points="308.58,411.34 313.62,411.34 311.10,406.90" fill="#1a1a1a"/>
<polygon points="322.18,405.20 327.22,405.20 324.70,400.76" fill="#1a1a1a"/>
<polygon points="336.08,395.69 341.12,395.69 338.60,391.25" fill="#1a1a1a"/>
<polygon points="350.18,396.61 355.22,396.61 352.70,392.17" fill="#1a1a1a"/>
<line x1="315.30" y1="432.20" x2="322.30" y2="432.20" stroke="#9595d2" stroke-width="1.0" />
<polygon points="316.18,430.20 321.43,430.20 318.80,434.82" fill="#9595d2"/>
<text x="326.20" y="434.50" font-size="6.6" text-anchor="start" fill="#222" textLength="36.40" lengthAdjust="spacingAndGlyphs" >Albumin/Albumin</text>
<line x1="315.30" y1="441.20" x2="322.30" y2="441.20" stroke="#1a1a1a" stroke-width="1.0" />
<polygon points="316.18,443.20 321.43,443.20 318.80,438.57" fill="#1a1a1a"/>
<text x="326.20" y="443.50" font-size="6.6" text-anchor="start" fill="#222" textLength="28.30" lengthAdjust="spacingAndGlyphs" >Albumin/AAT</text>
<line x1="315.30" y1="450.00" x2="322.30" y2="450.00" stroke="#c8323c" stroke-width="1.0" />
<circle cx="318.80" cy="450.00" r="2.00" fill="#c8323c"/>
<text x="326.20" y="452.30" font-size="6.6" text-anchor="start" fill="#222" textLength="27.60" lengthAdjust="spacingAndGlyphs" >AAT/Albumin</text>
<line x1="315.30" y1="458.30" x2="322.30" y2="458.30" stroke="#5f8c84" stroke-width="1.0" />
<polygon points="316.30,458.30 318.80,455.80 321.30,458.30 318.80,460.80" fill="#5f8c84"/>
<text x="326.20" y="460.60" font-size="6.6" text-anchor="start" fill="#222" textLength="20.00" lengthAdjust="spacingAndGlyphs" >AAT/AAT</text>
<line x1="400.30" y1="367.30" x2="400.30" y2="454.20" stroke="#8a8a8a" stroke-width="1.2" />
<line x1="398.30" y1="367.80" x2="400.30" y2="367.80" stroke="#8a8a8a" stroke-width="1" />
<text x="397.90" y="370.80" font-size="8.4" text-anchor="end" fill="#222" >8</text>
<line x1="398.30" y1="389.40" x2="400.30" y2="389.40" stroke="#8a8a8a" stroke-width="1" />
<text x="397.90" y="392.40" font-size="8.4" text-anchor="end" fill="#222" >6</text>
<line x1="398.30" y1="411.00" x2="400.30" y2="411.00" stroke="#8a8a8a" stroke-width="1" />
<text x="397.90" y="414.00" font-size="8.4" text-anchor="end" fill="#222" >4</text>
<line x1="398.30" y1="432.60" x2="400.30" y2="432.60" stroke="#8a8a8a" stroke-width="1" />
<text x="397.90" y="435.60" font-size="8.4" text-anchor="end" fill="#222" >2</text>
<line x1="398.30" y1="454.20" x2="400.30" y2="454.20" stroke="#8a8a8a" stroke-width="1" />
<text x="397.90" y="457.20" font-size="8.4" text-anchor="end" fill="#222" >0</text>
<line x1="400.30" y1="454.20" x2="489.40" y2="454.20" stroke="#8a8a8a" stroke-width="1.2" />
<line x1="408.30" y1="454.20" x2="408.30" y2="456.20" stroke="#8a8a8a" stroke-width="1" />
<text x="408.30" y="464.00" font-size="9" text-anchor="middle" fill="#1a1a1a" textLength="4.40" lengthAdjust="spacingAndGlyphs" >0</text>
<line x1="423.10" y1="454.20" x2="423.10" y2="456.20" stroke="#8a8a8a" stroke-width="1" />
<text x="423.10" y="464.00" font-size="9" text-anchor="middle" fill="#1a1a1a" textLength="4.40" lengthAdjust="spacingAndGlyphs" >7</text>
<line x1="437.70" y1="454.20" x2="437.70" y2="456.20" stroke="#8a8a8a" stroke-width="1" />
<text x="437.70" y="464.00" font-size="9" text-anchor="middle" fill="#1a1a1a" textLength="8.80" lengthAdjust="spacingAndGlyphs" >14</text>
<line x1="452.10" y1="454.20" x2="452.10" y2="456.20" stroke="#8a8a8a" stroke-width="1" />
<text x="452.10" y="464.00" font-size="9" text-anchor="middle" fill="#1a1a1a" textLength="8.80" lengthAdjust="spacingAndGlyphs" >21</text>
<line x1="466.90" y1="454.20" x2="466.90" y2="456.20" stroke="#8a8a8a" stroke-width="1" />
<text x="466.90" y="464.00" font-size="9" text-anchor="middle" fill="#1a1a1a" textLength="8.80" lengthAdjust="spacingAndGlyphs" >28</text>
<line x1="481.90" y1="454.20" x2="481.90" y2="456.20" stroke="#8a8a8a" stroke-width="1" />
<text x="481.90" y="464.00" font-size="9" text-anchor="middle" fill="#1a1a1a" textLength="8.80" lengthAdjust="spacingAndGlyphs" >35</text>
<text x="444.80" y="472.20" font-size="9.6" text-anchor="middle" fill="#111" textLength="17.30" lengthAdjust="spacingAndGlyphs" >Days</text>
<text x="390.00" y="409.00" font-size="9" text-anchor="middle" fill="#222" textLength="49.80" lengthAdjust="spacingAndGlyphs" transform="rotate(-90 390.00 409.00)" >GVHD Score</text>
<line x1="423.10" y1="399.12" x2="423.10" y2="405.60" stroke="#9595d2" stroke-width="0.8" stroke-opacity="0.7"/>
<line x1="421.50" y1="399.12" x2="424.70" y2="399.12" stroke="#9595d2" stroke-width="0.8" stroke-opacity="0.7"/>
<line x1="421.50" y1="405.60" x2="424.70" y2="405.60" stroke="#9595d2" stroke-width="0.8" stroke-opacity="0.7"/>
<line x1="437.70" y1="404.52" x2="437.70" y2="411.00" stroke="#9595d2" stroke-width="0.8" stroke-opacity="0.7"/>
<line x1="436.10" y1="404.52" x2="439.30" y2="404.52" stroke="#9595d2" stroke-width="0.8" stroke-opacity="0.7"/>
<line x1="436.10" y1="411.00" x2="439.30" y2="411.00" stroke="#9595d2" stroke-width="0.8" stroke-opacity="0.7"/>
<line x1="452.10" y1="408.84" x2="452.10" y2="423.96" stroke="#9595d2" stroke-width="0.8" stroke-opacity="0.7"/>
<line x1="450.50" y1="408.84" x2="453.70" y2="408.84" stroke="#9595d2" stroke-width="0.8" stroke-opacity="0.7"/>
<line x1="450.50" y1="423.96" x2="453.70" y2="423.96" stroke="#9595d2" stroke-width="0.8" stroke-opacity="0.7"/>
<line x1="466.90" y1="419.64" x2="466.90" y2="433.68" stroke="#9595d2" stroke-width="0.8" stroke-opacity="0.7"/>
<line x1="465.30" y1="419.64" x2="468.50" y2="419.64" stroke="#9595d2" stroke-width="0.8" stroke-opacity="0.7"/>
<line x1="465.30" y1="433.68" x2="468.50" y2="433.68" stroke="#9595d2" stroke-width="0.8" stroke-opacity="0.7"/>
<line x1="481.90" y1="419.10" x2="481.90" y2="434.22" stroke="#9595d2" stroke-width="0.8" stroke-opacity="0.7"/>
<line x1="480.30" y1="419.10" x2="483.50" y2="419.10" stroke="#9595d2" stroke-width="0.8" stroke-opacity="0.7"/>
<line x1="480.30" y1="434.22" x2="483.50" y2="434.22" stroke="#9595d2" stroke-width="0.8" stroke-opacity="0.7"/>
<polyline points="408.30,454.20 423.10,402.36 437.70,407.76 452.10,416.40 466.90,426.66 481.90,426.66" stroke="#9595d2" stroke-width="1.0" fill="none" />
<circle cx="408.30" cy="454.20" r="1.44" fill="#9595d2"/>
<circle cx="423.10" cy="402.36" r="1.44" fill="#9595d2"/>
<circle cx="437.70" cy="407.76" r="1.44" fill="#9595d2"/>
<circle cx="452.10" cy="416.40" r="1.44" fill="#9595d2"/>
<circle cx="466.90" cy="426.66" r="1.44" fill="#9595d2"/>
<circle cx="481.90" cy="426.66" r="1.44" fill="#9595d2"/>
<line x1="423.10" y1="419.64" x2="423.10" y2="434.76" stroke="#1a1a1a" stroke-width="0.8" stroke-opacity="0.7"/>
<line x1="421.50" y1="419.64" x2="424.70" y2="419.64" stroke="#1a1a1a" stroke-width="0.8" stroke-opacity="0.7"/>
<line x1="421.50" y1="434.76" x2="424.70" y2="434.76" stroke="#1a1a1a" stroke-width="0.8" stroke-opacity="0.7"/>
<line x1="437.70" y1="408.84" x2="437.70" y2="434.76" stroke="#1a1a1a" stroke-width="0.8" stroke-opacity="0.7"/>
<line x1="436.10" y1="408.84" x2="439.30" y2="408.84" stroke="#1a1a1a" stroke-width="0.8" stroke-opacity="0.7"/>
<line x1="436.10" y1="434.76" x2="439.30" y2="434.76" stroke="#1a1a1a" stroke-width="0.8" stroke-opacity="0.7"/>
<line x1="452.10" y1="418.56" x2="452.10" y2="435.84" stroke="#1a1a1a" stroke-width="0.8" stroke-opacity="0.7"/>
<line x1="450.50" y1="418.56" x2="453.70" y2="418.56" stroke="#1a1a1a" stroke-width="0.8" stroke-opacity="0.7"/>
<line x1="450.50" y1="435.84" x2="453.70" y2="435.84" stroke="#1a1a1a" stroke-width="0.8" stroke-opacity="0.7"/>
<line x1="466.90" y1="427.20" x2="466.90" y2="438.00" stroke="#1a1a1a" stroke-width="0.8" stroke-opacity="0.7"/>
<line x1="465.30" y1="427.20" x2="468.50" y2="427.20" stroke="#1a1a1a" stroke-width="0.8" stroke-opacity="0.7"/>
<line x1="465.30" y1="438.00" x2="468.50" y2="438.00" stroke="#1a1a1a" stroke-width="0.8" stroke-opacity="0.7"/>
<line x1="481.90" y1="441.24" x2="481.90" y2="456.36" stroke="#1a1a1a" stroke-width="0.8" stroke-opacity="0.7"/>
<line x1="480.30" y1="441.24" x2="483.50" y2="441.24" stroke="#1a1a1a" stroke-width="0.8" stroke-opacity="0.7"/>
<line x1="480.30" y1="456.36" x2="483.50" y2="456.36" stroke="#1a1a1a" stroke-width="0.8" stroke-opacity="0.7"/>
<polyline points="408.30,454.20 423.10,427.20 437.70,421.80 452.10,427.20 466.90,432.60 481.90,448.80" stroke="#1a1a1a" stroke-width="1.0" fill="none" />
<circle cx="408.30" cy="454.20" r="1.44" fill="#1a1a1a"/>
<circle cx="423.10" cy="427.20" r="1.44" fill="#1a1a1a"/>
<circle cx="437.70" cy="421.80" r="1.44" fill="#1a1a1a"/>
<circle cx="452.10" cy="427.20" r="1.44" fill="#1a1a1a"/>
<circle cx="466.90" cy="432.60" r="1.44" fill="#1a1a1a"/>
<circle cx="481.90" cy="448.80" r="1.44" fill="#1a1a1a"/>
<line x1="423.10" y1="432.60" x2="423.10" y2="443.40" stroke="#5f8c84" stroke-width="0.8" stroke-opacity="0.7"/>
<line x1="421.50" y1="432.60" x2="424.70" y2="432.60" stroke="#5f8c84" stroke-width="0.8" stroke-opacity="0.7"/>
<line x1="421.50" y1="443.40" x2="424.70" y2="443.40" stroke="#5f8c84" stroke-width="0.8" stroke-opacity="0.7"/>
<line x1="437.70" y1="430.44" x2="437.70" y2="445.56" stroke="#5f8c84" stroke-width="0.8" stroke-opacity="0.7"/>
<line x1="436.10" y1="430.44" x2="439.30" y2="430.44" stroke="#5f8c84" stroke-width="0.8" stroke-opacity="0.7"/>
<line x1="436.10" y1="445.56" x2="439.30" y2="445.56" stroke="#5f8c84" stroke-width="0.8" stroke-opacity="0.7"/>
<line x1="452.10" y1="428.28" x2="452.10" y2="441.24" stroke="#5f8c84" stroke-width="0.8" stroke-opacity="0.7"/>
<line x1="450.50" y1="428.28" x2="453.70" y2="428.28" stroke="#5f8c84" stroke-width="0.8" stroke-opacity="0.7"/>
<line x1="450.50" y1="441.24" x2="453.70" y2="441.24" stroke="#5f8c84" stroke-width="0.8" stroke-opacity="0.7"/>
<line x1="466.90" y1="440.16" x2="466.90" y2="446.64" stroke="#5f8c84" stroke-width="0.8" stroke-opacity="0.7"/>
<line x1="465.30" y1="440.16" x2="468.50" y2="440.16" stroke="#5f8c84" stroke-width="0.8" stroke-opacity="0.7"/>
<line x1="465.30" y1="446.64" x2="468.50" y2="446.64" stroke="#5f8c84" stroke-width="0.8" stroke-opacity="0.7"/>
<line x1="481.90" y1="445.56" x2="481.90" y2="452.04" stroke="#5f8c84" stroke-width="0.8" stroke-opacity="0.7"/>
<line x1="480.30" y1="445.56" x2="483.50" y2="445.56" stroke="#5f8c84" stroke-width="0.8" stroke-opacity="0.7"/>
<line x1="480.30" y1="452.04" x2="483.50" y2="452.04" stroke="#5f8c84" stroke-width="0.8" stroke-opacity="0.7"/>
<polyline points="408.30,454.20 423.10,438.00 437.70,438.00 452.10,434.76 466.90,443.40 481.90,448.80" stroke="#5f8c84" stroke-width="1.0" fill="none" />
<circle cx="408.30" cy="454.20" r="1.44" fill="#5f8c84"/>
<circle cx="423.10" cy="438.00" r="1.44" fill="#5f8c84"/>
<circle cx="437.70" cy="438.00" r="1.44" fill="#5f8c84"/>
<circle cx="452.10" cy="434.76" r="1.44" fill="#5f8c84"/>
<circle cx="466.90" cy="443.40" r="1.44" fill="#5f8c84"/>
<circle cx="481.90" cy="448.80" r="1.44" fill="#5f8c84"/>
<line x1="423.10" y1="434.76" x2="423.10" y2="445.56" stroke="#c8323c" stroke-width="0.8" stroke-opacity="0.7"/>
<line x1="421.50" y1="434.76" x2="424.70" y2="434.76" stroke="#c8323c" stroke-width="0.8" stroke-opacity="0.7"/>
<line x1="421.50" y1="445.56" x2="424.70" y2="445.56" stroke="#c8323c" stroke-width="0.8" stroke-opacity="0.7"/>
<line x1="437.70" y1="430.44" x2="437.70" y2="445.56" stroke="#c8323c" stroke-width="0.8" stroke-opacity="0.7"/>
<line x1="436.10" y1="430.44" x2="439.30" y2="430.44" stroke="#c8323c" stroke-width="0.8" stroke-opacity="0.7"/>
<line x1="436.10" y1="445.56" x2="439.30" y2="445.56" stroke="#c8323c" stroke-width="0.8" stroke-opacity="0.7"/>
<line x1="452.10" y1="430.44" x2="452.10" y2="445.56" stroke="#c8323c" stroke-width="0.8" stroke-opacity="0.7"/>
<line x1="450.50" y1="430.44" x2="453.70" y2="430.44" stroke="#c8323c" stroke-width="0.8" stroke-opacity="0.7"/>
<line x1="450.50" y1="445.56" x2="453.70" y2="445.56" stroke="#c8323c" stroke-width="0.8" stroke-opacity="0.7"/>
<line x1="466.90" y1="445.56" x2="466.90" y2="452.04" stroke="#c8323c" stroke-width="0.8" stroke-opacity="0.7"/>
<line x1="465.30" y1="445.56" x2="468.50" y2="445.56" stroke="#c8323c" stroke-width="0.8" stroke-opacity="0.7"/>
<line x1="465.30" y1="452.04" x2="468.50" y2="452.04" stroke="#c8323c" stroke-width="0.8" stroke-opacity="0.7"/>
<line x1="481.90" y1="445.56" x2="481.90" y2="452.04" stroke="#c8323c" stroke-width="0.8" stroke-opacity="0.7"/>
<line x1="480.30" y1="445.56" x2="483.50" y2="445.56" stroke="#c8323c" stroke-width="0.8" stroke-opacity="0.7"/>
<line x1="480.30" y1="452.04" x2="483.50" y2="452.04" stroke="#c8323c" stroke-width="0.8" stroke-opacity="0.7"/>
<polyline points="408.30,454.20 423.10,440.16 437.70,438.00 452.10,438.00 466.90,448.80 481.90,448.80" stroke="#c8323c" stroke-width="1.0" fill="none" />
<circle cx="408.30" cy="454.20" r="1.44" fill="#c8323c"/>
<circle cx="423.10" cy="440.16" r="1.44" fill="#c8323c"/>
<circle cx="437.70" cy="438.00" r="1.44" fill="#c8323c"/>
<circle cx="452.10" cy="438.00" r="1.44" fill="#c8323c"/>
<circle cx="466.90" cy="448.80" r="1.44" fill="#c8323c"/>
<circle cx="481.90" cy="448.80" r="1.44" fill="#c8323c"/>
<line x1="423.40" y1="358.70" x2="430.20" y2="358.70" stroke="#9595d2" stroke-width="0.9" />
<circle cx="426.80" cy="358.70" r="1.44" fill="#9595d2"/>
<text x="433.20" y="361.40" font-size="7.6" text-anchor="start" fill="#2a2a2a" textLength="52.50" lengthAdjust="spacingAndGlyphs" >Albumin/Albumin</text>
<line x1="423.40" y1="368.30" x2="430.20" y2="368.30" stroke="#1a1a1a" stroke-width="0.9" />
<polygon points="424.91,369.74 428.69,369.74 426.80,366.41" fill="#1a1a1a"/>
<text x="433.20" y="371.00" font-size="7.6" text-anchor="start" fill="#2a2a2a" textLength="40.50" lengthAdjust="spacingAndGlyphs" >Albumin/AAT</text>
<line x1="423.40" y1="377.90" x2="430.20" y2="377.90" stroke="#5f8c84" stroke-width="0.9" />
<polygon points="425.00,377.90 426.80,376.10 428.60,377.90 426.80,379.70" fill="#5f8c84"/>
<text x="433.20" y="380.60" font-size="7.6" text-anchor="start" fill="#2a2a2a" textLength="28.00" lengthAdjust="spacingAndGlyphs" >AAT/AAT</text>
<line x1="423.40" y1="386.90" x2="430.20" y2="386.90" stroke="#c8323c" stroke-width="0.9" />
<circle cx="426.80" cy="386.90" r="1.44" fill="#c8323c"/>
<text x="433.20" y="389.60" font-size="7.6" text-anchor="start" fill="#2a2a2a" textLength="40.00" lengthAdjust="spacingAndGlyphs" >AAT/Albumin</text>
<line x1="476.20" y1="368.30" x2="476.20" y2="386.90" stroke="#777" stroke-width="1.1" />
<line x1="469.80" y1="368.30" x2="476.75" y2="368.30" stroke="#777" stroke-width="1.1" />
<line x1="469.80" y1="386.90" x2="476.75" y2="386.90" stroke="#777" stroke-width="1.1" />
<line x1="499.20" y1="359.20" x2="499.20" y2="386.90" stroke="#777" stroke-width="1.1" />
<line x1="493.00" y1="359.20" x2="499.75" y2="359.20" stroke="#777" stroke-width="1.1" />
<line x1="493.00" y1="386.90" x2="499.75" y2="386.90" stroke="#777" stroke-width="1.1" />
<rect x="471.65" y="375.20" width="22.30" height="7.2" fill="#fff"/>
<text x="482.80" y="381.68" font-size="8.0" text-anchor="middle" fill="#333" textLength="21.70" lengthAdjust="spacingAndGlyphs"><tspan font-style="italic">p</tspan> = 0.05</text>
<rect x="494.80" y="367.20" width="25.40" height="7.2" fill="#fff"/>
<text x="507.50" y="373.68" font-size="8.0" text-anchor="middle" fill="#333" textLength="24.80" lengthAdjust="spacingAndGlyphs"><tspan font-style="italic">p</tspan> = 0.001</text>
</svg>
</body></html>
